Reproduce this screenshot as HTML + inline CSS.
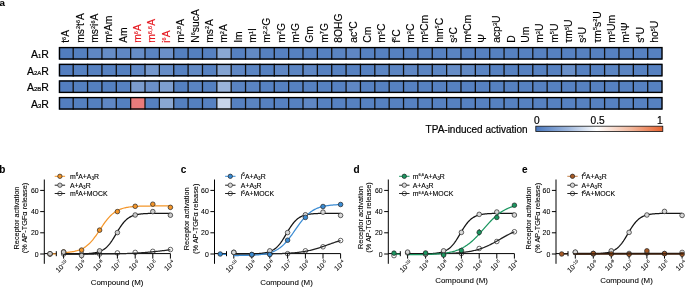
<!DOCTYPE html>
<html><head><meta charset="utf-8"><style>
html,body{margin:0;padding:0;background:#fff;width:685px;height:287px;overflow:hidden;}
svg{display:block;will-change:transform;font-family:"Liberation Sans", sans-serif;}
</style></head><body><svg width="685" height="287" viewBox="0 0 685 287" font-family='"Liberation Sans", sans-serif'><text x="-0.60" y="5.50" font-size="9.80" text-anchor="start" fill="#000" font-weight="bold" stroke="#000" stroke-width="0.08" >a</text><text transform="translate(69.32,42.8) rotate(-90)" font-size="10.35" fill="#000" stroke="#000" stroke-width="0.15"><tspan>t</tspan><tspan font-size="5.60" dy="-3.50">6</tspan><tspan dy="3.50">A</tspan></text><text transform="translate(83.68,42.8) rotate(-90)" font-size="10.35" fill="#000" stroke="#000" stroke-width="0.15"><tspan>ms</tspan><tspan font-size="5.60" dy="-3.50">2</tspan><tspan dy="3.50">t</tspan><tspan font-size="5.60" dy="-3.50">6</tspan><tspan dy="3.50">A</tspan></text><text transform="translate(98.05,42.8) rotate(-90)" font-size="10.35" fill="#000" stroke="#000" stroke-width="0.15"><tspan>ms</tspan><tspan font-size="5.60" dy="-3.50">2</tspan><tspan dy="3.50">i</tspan><tspan font-size="5.60" dy="-3.50">6</tspan><tspan dy="3.50">A</tspan></text><text transform="translate(112.41,42.8) rotate(-90)" font-size="10.35" fill="#000" stroke="#000" stroke-width="0.15"><tspan>m</tspan><tspan font-size="5.60" dy="-3.50">6</tspan><tspan dy="3.50">Am</tspan></text><text transform="translate(126.77,42.8) rotate(-90)" font-size="10.35" fill="#000" stroke="#000" stroke-width="0.15"><tspan>Am</tspan></text><text transform="translate(141.13,42.8) rotate(-90)" font-size="10.35" fill="#e4131b" stroke="#e4131b" stroke-width="0.15"><tspan>m</tspan><tspan font-size="5.60" dy="-3.50">6</tspan><tspan dy="3.50">A</tspan></text><text transform="translate(155.49,42.8) rotate(-90)" font-size="10.35" fill="#e4131b" stroke="#e4131b" stroke-width="0.15"><tspan>m</tspan><tspan font-size="6.00" dy="-3.50">6,6</tspan><tspan dy="3.50">A</tspan></text><text transform="translate(169.86,42.8) rotate(-90)" font-size="10.35" fill="#e4131b" stroke="#e4131b" stroke-width="0.15"><tspan>i</tspan><tspan font-size="5.60" dy="-3.50">6</tspan><tspan dy="3.50">A</tspan></text><text transform="translate(184.22,42.8) rotate(-90)" font-size="10.35" fill="#000" stroke="#000" stroke-width="0.15"><tspan>m</tspan><tspan font-size="6.00" dy="-3.50">2,8</tspan><tspan dy="3.50">A</tspan></text><text transform="translate(198.58,42.8) rotate(-90)" font-size="10.35" fill="#000" stroke="#000" stroke-width="0.15"><tspan>N</tspan><tspan font-size="5.60" dy="-3.50">6</tspan><tspan dy="3.50">sucA</tspan></text><text transform="translate(212.94,42.8) rotate(-90)" font-size="10.35" fill="#000" stroke="#000" stroke-width="0.15"><tspan>ms</tspan><tspan font-size="5.60" dy="-3.50">2</tspan><tspan dy="3.50">A</tspan></text><text transform="translate(227.30,42.8) rotate(-90)" font-size="10.35" fill="#000" stroke="#000" stroke-width="0.15"><tspan>m</tspan><tspan font-size="5.60" dy="-3.50">2</tspan><tspan dy="3.50">A</tspan></text><text transform="translate(241.67,42.8) rotate(-90)" font-size="10.35" fill="#000" stroke="#000" stroke-width="0.15"><tspan>Im</tspan></text><text transform="translate(256.03,42.8) rotate(-90)" font-size="10.35" fill="#000" stroke="#000" stroke-width="0.15"><tspan>m</tspan><tspan font-size="5.60" dy="-3.50">1</tspan><tspan dy="3.50">I</tspan></text><text transform="translate(270.39,42.8) rotate(-90)" font-size="10.35" fill="#000" stroke="#000" stroke-width="0.15"><tspan>m</tspan><tspan font-size="6.00" dy="-3.50">2,2</tspan><tspan dy="3.50">G</tspan></text><text transform="translate(284.75,42.8) rotate(-90)" font-size="10.35" fill="#000" stroke="#000" stroke-width="0.15"><tspan>m</tspan><tspan font-size="5.60" dy="-3.50">2</tspan><tspan dy="3.50">G</tspan></text><text transform="translate(299.12,42.8) rotate(-90)" font-size="10.35" fill="#000" stroke="#000" stroke-width="0.15"><tspan>m</tspan><tspan font-size="5.60" dy="-3.50">1</tspan><tspan dy="3.50">G</tspan></text><text transform="translate(313.48,42.8) rotate(-90)" font-size="10.35" fill="#000" stroke="#000" stroke-width="0.15"><tspan>Gm</tspan></text><text transform="translate(327.84,42.8) rotate(-90)" font-size="10.35" fill="#000" stroke="#000" stroke-width="0.15"><tspan>m</tspan><tspan font-size="5.60" dy="-3.50">7</tspan><tspan dy="3.50">G</tspan></text><text transform="translate(342.20,42.8) rotate(-90)" font-size="10.35" fill="#000" stroke="#000" stroke-width="0.15"><tspan>8OHG</tspan></text><text transform="translate(356.56,42.8) rotate(-90)" font-size="10.35" fill="#000" stroke="#000" stroke-width="0.15"><tspan>ac</tspan><tspan font-size="5.60" dy="-3.50">4</tspan><tspan dy="3.50">C</tspan></text><text transform="translate(370.93,42.8) rotate(-90)" font-size="10.35" fill="#000" stroke="#000" stroke-width="0.15"><tspan>Cm</tspan></text><text transform="translate(385.29,42.8) rotate(-90)" font-size="10.35" fill="#000" stroke="#000" stroke-width="0.15"><tspan>m</tspan><tspan font-size="5.60" dy="-3.50">5</tspan><tspan dy="3.50">C</tspan></text><text transform="translate(399.65,42.8) rotate(-90)" font-size="10.35" fill="#000" stroke="#000" stroke-width="0.15"><tspan>f</tspan><tspan font-size="5.60" dy="-3.50">5</tspan><tspan dy="3.50">C</tspan></text><text transform="translate(414.01,42.8) rotate(-90)" font-size="10.35" fill="#000" stroke="#000" stroke-width="0.15"><tspan>m</tspan><tspan font-size="5.60" dy="-3.50">3</tspan><tspan dy="3.50">C</tspan></text><text transform="translate(428.37,42.8) rotate(-90)" font-size="10.35" fill="#000" stroke="#000" stroke-width="0.15"><tspan>m</tspan><tspan font-size="5.60" dy="-3.50">5</tspan><tspan dy="3.50">Cm</tspan></text><text transform="translate(442.74,42.8) rotate(-90)" font-size="10.35" fill="#000" stroke="#000" stroke-width="0.15"><tspan>hm</tspan><tspan font-size="5.60" dy="-3.50">5</tspan><tspan dy="3.50">C</tspan></text><text transform="translate(457.10,42.8) rotate(-90)" font-size="10.35" fill="#000" stroke="#000" stroke-width="0.15"><tspan>s</tspan><tspan font-size="5.60" dy="-3.50">2</tspan><tspan dy="3.50">C</tspan></text><text transform="translate(471.46,42.8) rotate(-90)" font-size="10.35" fill="#000" stroke="#000" stroke-width="0.15"><tspan>m</tspan><tspan font-size="5.60" dy="-3.50">4</tspan><tspan dy="3.50">Cm</tspan></text><text transform="translate(485.82,42.8) rotate(-90)" font-size="10.35" fill="#000" stroke="#000" stroke-width="0.15"><tspan>Ψ</tspan></text><text transform="translate(500.19,42.8) rotate(-90)" font-size="10.35" fill="#000" stroke="#000" stroke-width="0.15"><tspan>acp</tspan><tspan font-size="5.60" dy="-3.50">3</tspan><tspan dy="3.50">U</tspan></text><text transform="translate(514.55,42.8) rotate(-90)" font-size="10.35" fill="#000" stroke="#000" stroke-width="0.15"><tspan>D</tspan></text><text transform="translate(528.91,42.8) rotate(-90)" font-size="10.35" fill="#000" stroke="#000" stroke-width="0.15"><tspan>Um</tspan></text><text transform="translate(543.27,42.8) rotate(-90)" font-size="10.35" fill="#000" stroke="#000" stroke-width="0.15"><tspan>m</tspan><tspan font-size="5.60" dy="-3.50">3</tspan><tspan dy="3.50">U</tspan></text><text transform="translate(557.63,42.8) rotate(-90)" font-size="10.35" fill="#000" stroke="#000" stroke-width="0.15"><tspan>m</tspan><tspan font-size="5.60" dy="-3.50">5</tspan><tspan dy="3.50">U</tspan></text><text transform="translate(572.00,42.8) rotate(-90)" font-size="10.35" fill="#000" stroke="#000" stroke-width="0.15"><tspan>τm</tspan><tspan font-size="5.60" dy="-3.50">5</tspan><tspan dy="3.50">U</tspan></text><text transform="translate(586.36,42.8) rotate(-90)" font-size="10.35" fill="#000" stroke="#000" stroke-width="0.15"><tspan>s</tspan><tspan font-size="5.60" dy="-3.50">2</tspan><tspan dy="3.50">U</tspan></text><text transform="translate(600.72,42.8) rotate(-90)" font-size="10.35" fill="#000" stroke="#000" stroke-width="0.15"><tspan>τm</tspan><tspan font-size="5.60" dy="-3.50">5</tspan><tspan dy="3.50">s</tspan><tspan font-size="5.60" dy="-3.50">2</tspan><tspan dy="3.50">U</tspan></text><text transform="translate(615.08,42.8) rotate(-90)" font-size="10.35" fill="#000" stroke="#000" stroke-width="0.15"><tspan>m</tspan><tspan font-size="5.60" dy="-3.50">5</tspan><tspan dy="3.50">Um</tspan></text><text transform="translate(629.44,42.8) rotate(-90)" font-size="10.35" fill="#000" stroke="#000" stroke-width="0.15"><tspan>m</tspan><tspan font-size="5.60" dy="-3.50">1</tspan><tspan dy="3.50">Ψ</tspan></text><text transform="translate(643.81,42.8) rotate(-90)" font-size="10.35" fill="#000" stroke="#000" stroke-width="0.15"><tspan>s</tspan><tspan font-size="5.60" dy="-3.50">4</tspan><tspan dy="3.50">U</tspan></text><text transform="translate(658.17,42.8) rotate(-90)" font-size="10.35" fill="#000" stroke="#000" stroke-width="0.15"><tspan>ho</tspan><tspan font-size="5.60" dy="-3.50">5</tspan><tspan dy="3.50">U</tspan></text><rect x="58.84" y="47.00" width="14.41" height="12.60" fill="#517dbf"/><rect x="73.20" y="47.00" width="14.41" height="12.60" fill="#5480c0"/><rect x="87.56" y="47.00" width="14.41" height="12.60" fill="#5f87c4"/><rect x="101.93" y="47.00" width="14.41" height="12.60" fill="#668dc7"/><rect x="116.29" y="47.00" width="14.41" height="12.60" fill="#5f87c4"/><rect x="130.65" y="47.00" width="14.41" height="12.60" fill="#668dc7"/><rect x="145.01" y="47.00" width="14.41" height="12.60" fill="#5a84c2"/><rect x="159.38" y="47.00" width="14.41" height="12.60" fill="#6b90c9"/><rect x="173.74" y="47.00" width="14.41" height="12.60" fill="#5480c0"/><rect x="188.10" y="47.00" width="14.41" height="12.60" fill="#5480c0"/><rect x="202.46" y="47.00" width="14.41" height="12.60" fill="#5681c1"/><rect x="216.82" y="47.00" width="14.41" height="12.60" fill="#8aa8d4"/><rect x="231.19" y="47.00" width="14.41" height="12.60" fill="#5681c1"/><rect x="245.55" y="47.00" width="14.41" height="12.60" fill="#628ac5"/><rect x="259.91" y="47.00" width="14.41" height="12.60" fill="#5681c1"/><rect x="274.27" y="47.00" width="14.41" height="12.60" fill="#5681c1"/><rect x="288.63" y="47.00" width="14.41" height="12.60" fill="#5681c1"/><rect x="303.00" y="47.00" width="14.41" height="12.60" fill="#5681c1"/><rect x="317.36" y="47.00" width="14.41" height="12.60" fill="#5681c1"/><rect x="331.72" y="47.00" width="14.41" height="12.60" fill="#5a84c2"/><rect x="346.08" y="47.00" width="14.41" height="12.60" fill="#5f87c4"/><rect x="360.44" y="47.00" width="14.41" height="12.60" fill="#5681c1"/><rect x="374.81" y="47.00" width="14.41" height="12.60" fill="#5681c1"/><rect x="389.17" y="47.00" width="14.41" height="12.60" fill="#5681c1"/><rect x="403.53" y="47.00" width="14.41" height="12.60" fill="#5681c1"/><rect x="417.89" y="47.00" width="14.41" height="12.60" fill="#5681c1"/><rect x="432.26" y="47.00" width="14.41" height="12.60" fill="#5681c1"/><rect x="446.62" y="47.00" width="14.41" height="12.60" fill="#5a84c2"/><rect x="460.98" y="47.00" width="14.41" height="12.60" fill="#5681c1"/><rect x="475.34" y="47.00" width="14.41" height="12.60" fill="#5681c1"/><rect x="489.70" y="47.00" width="14.41" height="12.60" fill="#5681c1"/><rect x="504.07" y="47.00" width="14.41" height="12.60" fill="#5681c1"/><rect x="518.43" y="47.00" width="14.41" height="12.60" fill="#5681c1"/><rect x="532.79" y="47.00" width="14.41" height="12.60" fill="#5681c1"/><rect x="547.15" y="47.00" width="14.41" height="12.60" fill="#5681c1"/><rect x="561.51" y="47.00" width="14.41" height="12.60" fill="#5681c1"/><rect x="575.88" y="47.00" width="14.41" height="12.60" fill="#5681c1"/><rect x="590.24" y="47.00" width="14.41" height="12.60" fill="#5681c1"/><rect x="604.60" y="47.00" width="14.41" height="12.60" fill="#5681c1"/><rect x="618.96" y="47.00" width="14.41" height="12.60" fill="#5681c1"/><rect x="633.33" y="47.00" width="14.41" height="12.60" fill="#5681c1"/><rect x="647.69" y="47.00" width="14.41" height="12.60" fill="#5681c1"/><line x1="73.20" y1="47.00" x2="73.20" y2="59.60" stroke="#111" stroke-width="1.3"/><line x1="87.56" y1="47.00" x2="87.56" y2="59.60" stroke="#111" stroke-width="1.3"/><line x1="101.93" y1="47.00" x2="101.93" y2="59.60" stroke="#111" stroke-width="1.3"/><line x1="116.29" y1="47.00" x2="116.29" y2="59.60" stroke="#111" stroke-width="1.3"/><line x1="130.65" y1="47.00" x2="130.65" y2="59.60" stroke="#111" stroke-width="1.3"/><line x1="145.01" y1="47.00" x2="145.01" y2="59.60" stroke="#111" stroke-width="1.3"/><line x1="159.38" y1="47.00" x2="159.38" y2="59.60" stroke="#111" stroke-width="1.3"/><line x1="173.74" y1="47.00" x2="173.74" y2="59.60" stroke="#111" stroke-width="1.3"/><line x1="188.10" y1="47.00" x2="188.10" y2="59.60" stroke="#111" stroke-width="1.3"/><line x1="202.46" y1="47.00" x2="202.46" y2="59.60" stroke="#111" stroke-width="1.3"/><line x1="216.82" y1="47.00" x2="216.82" y2="59.60" stroke="#111" stroke-width="1.3"/><line x1="231.19" y1="47.00" x2="231.19" y2="59.60" stroke="#111" stroke-width="1.3"/><line x1="245.55" y1="47.00" x2="245.55" y2="59.60" stroke="#111" stroke-width="1.3"/><line x1="259.91" y1="47.00" x2="259.91" y2="59.60" stroke="#111" stroke-width="1.3"/><line x1="274.27" y1="47.00" x2="274.27" y2="59.60" stroke="#111" stroke-width="1.3"/><line x1="288.63" y1="47.00" x2="288.63" y2="59.60" stroke="#111" stroke-width="1.3"/><line x1="303.00" y1="47.00" x2="303.00" y2="59.60" stroke="#111" stroke-width="1.3"/><line x1="317.36" y1="47.00" x2="317.36" y2="59.60" stroke="#111" stroke-width="1.3"/><line x1="331.72" y1="47.00" x2="331.72" y2="59.60" stroke="#111" stroke-width="1.3"/><line x1="346.08" y1="47.00" x2="346.08" y2="59.60" stroke="#111" stroke-width="1.3"/><line x1="360.44" y1="47.00" x2="360.44" y2="59.60" stroke="#111" stroke-width="1.3"/><line x1="374.81" y1="47.00" x2="374.81" y2="59.60" stroke="#111" stroke-width="1.3"/><line x1="389.17" y1="47.00" x2="389.17" y2="59.60" stroke="#111" stroke-width="1.3"/><line x1="403.53" y1="47.00" x2="403.53" y2="59.60" stroke="#111" stroke-width="1.3"/><line x1="417.89" y1="47.00" x2="417.89" y2="59.60" stroke="#111" stroke-width="1.3"/><line x1="432.26" y1="47.00" x2="432.26" y2="59.60" stroke="#111" stroke-width="1.3"/><line x1="446.62" y1="47.00" x2="446.62" y2="59.60" stroke="#111" stroke-width="1.3"/><line x1="460.98" y1="47.00" x2="460.98" y2="59.60" stroke="#111" stroke-width="1.3"/><line x1="475.34" y1="47.00" x2="475.34" y2="59.60" stroke="#111" stroke-width="1.3"/><line x1="489.70" y1="47.00" x2="489.70" y2="59.60" stroke="#111" stroke-width="1.3"/><line x1="504.07" y1="47.00" x2="504.07" y2="59.60" stroke="#111" stroke-width="1.3"/><line x1="518.43" y1="47.00" x2="518.43" y2="59.60" stroke="#111" stroke-width="1.3"/><line x1="532.79" y1="47.00" x2="532.79" y2="59.60" stroke="#111" stroke-width="1.3"/><line x1="547.15" y1="47.00" x2="547.15" y2="59.60" stroke="#111" stroke-width="1.3"/><line x1="561.51" y1="47.00" x2="561.51" y2="59.60" stroke="#111" stroke-width="1.3"/><line x1="575.88" y1="47.00" x2="575.88" y2="59.60" stroke="#111" stroke-width="1.3"/><line x1="590.24" y1="47.00" x2="590.24" y2="59.60" stroke="#111" stroke-width="1.3"/><line x1="604.60" y1="47.00" x2="604.60" y2="59.60" stroke="#111" stroke-width="1.3"/><line x1="618.96" y1="47.00" x2="618.96" y2="59.60" stroke="#111" stroke-width="1.3"/><line x1="633.33" y1="47.00" x2="633.33" y2="59.60" stroke="#111" stroke-width="1.3"/><line x1="647.69" y1="47.00" x2="647.69" y2="59.60" stroke="#111" stroke-width="1.3"/><rect x="59.50" y="47.60" width="602.50" height="11.40" fill="none" stroke="#000" stroke-width="1.4"/><text x="48.90" y="57.80" font-size="10.50" text-anchor="end" fill="#000" stroke="#000" stroke-width="0.20" >A<tspan font-size="6">1</tspan>R</text><rect x="58.84" y="63.80" width="14.41" height="12.60" fill="#537ec0"/><rect x="73.20" y="63.80" width="14.41" height="12.60" fill="#5681c1"/><rect x="87.56" y="63.80" width="14.41" height="12.60" fill="#5681c1"/><rect x="101.93" y="63.80" width="14.41" height="12.60" fill="#5681c1"/><rect x="116.29" y="63.80" width="14.41" height="12.60" fill="#5480c0"/><rect x="130.65" y="63.80" width="14.41" height="12.60" fill="#5f87c4"/><rect x="145.01" y="63.80" width="14.41" height="12.60" fill="#7497cc"/><rect x="159.38" y="63.80" width="14.41" height="12.60" fill="#668dc7"/><rect x="173.74" y="63.80" width="14.41" height="12.60" fill="#5681c1"/><rect x="188.10" y="63.80" width="14.41" height="12.60" fill="#628ac5"/><rect x="202.46" y="63.80" width="14.41" height="12.60" fill="#5681c1"/><rect x="216.82" y="63.80" width="14.41" height="12.60" fill="#83a3d2"/><rect x="231.19" y="63.80" width="14.41" height="12.60" fill="#5f87c4"/><rect x="245.55" y="63.80" width="14.41" height="12.60" fill="#5b85c3"/><rect x="259.91" y="63.80" width="14.41" height="12.60" fill="#5681c1"/><rect x="274.27" y="63.80" width="14.41" height="12.60" fill="#5f87c4"/><rect x="288.63" y="63.80" width="14.41" height="12.60" fill="#5b85c3"/><rect x="303.00" y="63.80" width="14.41" height="12.60" fill="#5f87c4"/><rect x="317.36" y="63.80" width="14.41" height="12.60" fill="#5681c1"/><rect x="331.72" y="63.80" width="14.41" height="12.60" fill="#5681c1"/><rect x="346.08" y="63.80" width="14.41" height="12.60" fill="#5681c1"/><rect x="360.44" y="63.80" width="14.41" height="12.60" fill="#5681c1"/><rect x="374.81" y="63.80" width="14.41" height="12.60" fill="#5b85c3"/><rect x="389.17" y="63.80" width="14.41" height="12.60" fill="#5b85c3"/><rect x="403.53" y="63.80" width="14.41" height="12.60" fill="#5f87c4"/><rect x="417.89" y="63.80" width="14.41" height="12.60" fill="#5b85c3"/><rect x="432.26" y="63.80" width="14.41" height="12.60" fill="#5b85c3"/><rect x="446.62" y="63.80" width="14.41" height="12.60" fill="#668dc7"/><rect x="460.98" y="63.80" width="14.41" height="12.60" fill="#628ac5"/><rect x="475.34" y="63.80" width="14.41" height="12.60" fill="#5b85c3"/><rect x="489.70" y="63.80" width="14.41" height="12.60" fill="#5681c1"/><rect x="504.07" y="63.80" width="14.41" height="12.60" fill="#5681c1"/><rect x="518.43" y="63.80" width="14.41" height="12.60" fill="#5681c1"/><rect x="532.79" y="63.80" width="14.41" height="12.60" fill="#5681c1"/><rect x="547.15" y="63.80" width="14.41" height="12.60" fill="#5681c1"/><rect x="561.51" y="63.80" width="14.41" height="12.60" fill="#698fc8"/><rect x="575.88" y="63.80" width="14.41" height="12.60" fill="#5681c1"/><rect x="590.24" y="63.80" width="14.41" height="12.60" fill="#5681c1"/><rect x="604.60" y="63.80" width="14.41" height="12.60" fill="#5b85c3"/><rect x="618.96" y="63.80" width="14.41" height="12.60" fill="#5b85c3"/><rect x="633.33" y="63.80" width="14.41" height="12.60" fill="#5681c1"/><rect x="647.69" y="63.80" width="14.41" height="12.60" fill="#5681c1"/><line x1="73.20" y1="63.80" x2="73.20" y2="76.40" stroke="#111" stroke-width="1.3"/><line x1="87.56" y1="63.80" x2="87.56" y2="76.40" stroke="#111" stroke-width="1.3"/><line x1="101.93" y1="63.80" x2="101.93" y2="76.40" stroke="#111" stroke-width="1.3"/><line x1="116.29" y1="63.80" x2="116.29" y2="76.40" stroke="#111" stroke-width="1.3"/><line x1="130.65" y1="63.80" x2="130.65" y2="76.40" stroke="#111" stroke-width="1.3"/><line x1="145.01" y1="63.80" x2="145.01" y2="76.40" stroke="#111" stroke-width="1.3"/><line x1="159.38" y1="63.80" x2="159.38" y2="76.40" stroke="#111" stroke-width="1.3"/><line x1="173.74" y1="63.80" x2="173.74" y2="76.40" stroke="#111" stroke-width="1.3"/><line x1="188.10" y1="63.80" x2="188.10" y2="76.40" stroke="#111" stroke-width="1.3"/><line x1="202.46" y1="63.80" x2="202.46" y2="76.40" stroke="#111" stroke-width="1.3"/><line x1="216.82" y1="63.80" x2="216.82" y2="76.40" stroke="#111" stroke-width="1.3"/><line x1="231.19" y1="63.80" x2="231.19" y2="76.40" stroke="#111" stroke-width="1.3"/><line x1="245.55" y1="63.80" x2="245.55" y2="76.40" stroke="#111" stroke-width="1.3"/><line x1="259.91" y1="63.80" x2="259.91" y2="76.40" stroke="#111" stroke-width="1.3"/><line x1="274.27" y1="63.80" x2="274.27" y2="76.40" stroke="#111" stroke-width="1.3"/><line x1="288.63" y1="63.80" x2="288.63" y2="76.40" stroke="#111" stroke-width="1.3"/><line x1="303.00" y1="63.80" x2="303.00" y2="76.40" stroke="#111" stroke-width="1.3"/><line x1="317.36" y1="63.80" x2="317.36" y2="76.40" stroke="#111" stroke-width="1.3"/><line x1="331.72" y1="63.80" x2="331.72" y2="76.40" stroke="#111" stroke-width="1.3"/><line x1="346.08" y1="63.80" x2="346.08" y2="76.40" stroke="#111" stroke-width="1.3"/><line x1="360.44" y1="63.80" x2="360.44" y2="76.40" stroke="#111" stroke-width="1.3"/><line x1="374.81" y1="63.80" x2="374.81" y2="76.40" stroke="#111" stroke-width="1.3"/><line x1="389.17" y1="63.80" x2="389.17" y2="76.40" stroke="#111" stroke-width="1.3"/><line x1="403.53" y1="63.80" x2="403.53" y2="76.40" stroke="#111" stroke-width="1.3"/><line x1="417.89" y1="63.80" x2="417.89" y2="76.40" stroke="#111" stroke-width="1.3"/><line x1="432.26" y1="63.80" x2="432.26" y2="76.40" stroke="#111" stroke-width="1.3"/><line x1="446.62" y1="63.80" x2="446.62" y2="76.40" stroke="#111" stroke-width="1.3"/><line x1="460.98" y1="63.80" x2="460.98" y2="76.40" stroke="#111" stroke-width="1.3"/><line x1="475.34" y1="63.80" x2="475.34" y2="76.40" stroke="#111" stroke-width="1.3"/><line x1="489.70" y1="63.80" x2="489.70" y2="76.40" stroke="#111" stroke-width="1.3"/><line x1="504.07" y1="63.80" x2="504.07" y2="76.40" stroke="#111" stroke-width="1.3"/><line x1="518.43" y1="63.80" x2="518.43" y2="76.40" stroke="#111" stroke-width="1.3"/><line x1="532.79" y1="63.80" x2="532.79" y2="76.40" stroke="#111" stroke-width="1.3"/><line x1="547.15" y1="63.80" x2="547.15" y2="76.40" stroke="#111" stroke-width="1.3"/><line x1="561.51" y1="63.80" x2="561.51" y2="76.40" stroke="#111" stroke-width="1.3"/><line x1="575.88" y1="63.80" x2="575.88" y2="76.40" stroke="#111" stroke-width="1.3"/><line x1="590.24" y1="63.80" x2="590.24" y2="76.40" stroke="#111" stroke-width="1.3"/><line x1="604.60" y1="63.80" x2="604.60" y2="76.40" stroke="#111" stroke-width="1.3"/><line x1="618.96" y1="63.80" x2="618.96" y2="76.40" stroke="#111" stroke-width="1.3"/><line x1="633.33" y1="63.80" x2="633.33" y2="76.40" stroke="#111" stroke-width="1.3"/><line x1="647.69" y1="63.80" x2="647.69" y2="76.40" stroke="#111" stroke-width="1.3"/><rect x="59.50" y="64.40" width="602.50" height="11.40" fill="none" stroke="#000" stroke-width="1.4"/><text x="48.90" y="74.60" font-size="10.50" text-anchor="end" fill="#000" stroke="#000" stroke-width="0.20" >A<tspan font-size="6">2A</tspan>R</text><rect x="58.84" y="80.40" width="14.41" height="12.60" fill="#537ec0"/><rect x="73.20" y="80.40" width="14.41" height="12.60" fill="#5480c0"/><rect x="87.56" y="80.40" width="14.41" height="12.60" fill="#5480c0"/><rect x="101.93" y="80.40" width="14.41" height="12.60" fill="#5480c0"/><rect x="116.29" y="80.40" width="14.41" height="12.60" fill="#5681c1"/><rect x="130.65" y="80.40" width="14.41" height="12.60" fill="#7b9cce"/><rect x="145.01" y="80.40" width="14.41" height="12.60" fill="#6b90c9"/><rect x="159.38" y="80.40" width="14.41" height="12.60" fill="#7e9fd0"/><rect x="173.74" y="80.40" width="14.41" height="12.60" fill="#5480c0"/><rect x="188.10" y="80.40" width="14.41" height="12.60" fill="#5a84c2"/><rect x="202.46" y="80.40" width="14.41" height="12.60" fill="#5480c0"/><rect x="216.82" y="80.40" width="14.41" height="12.60" fill="#9ab4da"/><rect x="231.19" y="80.40" width="14.41" height="12.60" fill="#5a84c2"/><rect x="245.55" y="80.40" width="14.41" height="12.60" fill="#5a84c2"/><rect x="259.91" y="80.40" width="14.41" height="12.60" fill="#5681c1"/><rect x="274.27" y="80.40" width="14.41" height="12.60" fill="#5681c1"/><rect x="288.63" y="80.40" width="14.41" height="12.60" fill="#5681c1"/><rect x="303.00" y="80.40" width="14.41" height="12.60" fill="#5681c1"/><rect x="317.36" y="80.40" width="14.41" height="12.60" fill="#5681c1"/><rect x="331.72" y="80.40" width="14.41" height="12.60" fill="#5681c1"/><rect x="346.08" y="80.40" width="14.41" height="12.60" fill="#5f87c4"/><rect x="360.44" y="80.40" width="14.41" height="12.60" fill="#5681c1"/><rect x="374.81" y="80.40" width="14.41" height="12.60" fill="#5681c1"/><rect x="389.17" y="80.40" width="14.41" height="12.60" fill="#5681c1"/><rect x="403.53" y="80.40" width="14.41" height="12.60" fill="#5681c1"/><rect x="417.89" y="80.40" width="14.41" height="12.60" fill="#5681c1"/><rect x="432.26" y="80.40" width="14.41" height="12.60" fill="#5681c1"/><rect x="446.62" y="80.40" width="14.41" height="12.60" fill="#5681c1"/><rect x="460.98" y="80.40" width="14.41" height="12.60" fill="#5681c1"/><rect x="475.34" y="80.40" width="14.41" height="12.60" fill="#5681c1"/><rect x="489.70" y="80.40" width="14.41" height="12.60" fill="#5681c1"/><rect x="504.07" y="80.40" width="14.41" height="12.60" fill="#5681c1"/><rect x="518.43" y="80.40" width="14.41" height="12.60" fill="#5681c1"/><rect x="532.79" y="80.40" width="14.41" height="12.60" fill="#5681c1"/><rect x="547.15" y="80.40" width="14.41" height="12.60" fill="#5681c1"/><rect x="561.51" y="80.40" width="14.41" height="12.60" fill="#5681c1"/><rect x="575.88" y="80.40" width="14.41" height="12.60" fill="#5681c1"/><rect x="590.24" y="80.40" width="14.41" height="12.60" fill="#5681c1"/><rect x="604.60" y="80.40" width="14.41" height="12.60" fill="#5681c1"/><rect x="618.96" y="80.40" width="14.41" height="12.60" fill="#5681c1"/><rect x="633.33" y="80.40" width="14.41" height="12.60" fill="#5681c1"/><rect x="647.69" y="80.40" width="14.41" height="12.60" fill="#5681c1"/><line x1="73.20" y1="80.40" x2="73.20" y2="93.00" stroke="#111" stroke-width="1.3"/><line x1="87.56" y1="80.40" x2="87.56" y2="93.00" stroke="#111" stroke-width="1.3"/><line x1="101.93" y1="80.40" x2="101.93" y2="93.00" stroke="#111" stroke-width="1.3"/><line x1="116.29" y1="80.40" x2="116.29" y2="93.00" stroke="#111" stroke-width="1.3"/><line x1="130.65" y1="80.40" x2="130.65" y2="93.00" stroke="#111" stroke-width="1.3"/><line x1="145.01" y1="80.40" x2="145.01" y2="93.00" stroke="#111" stroke-width="1.3"/><line x1="159.38" y1="80.40" x2="159.38" y2="93.00" stroke="#111" stroke-width="1.3"/><line x1="173.74" y1="80.40" x2="173.74" y2="93.00" stroke="#111" stroke-width="1.3"/><line x1="188.10" y1="80.40" x2="188.10" y2="93.00" stroke="#111" stroke-width="1.3"/><line x1="202.46" y1="80.40" x2="202.46" y2="93.00" stroke="#111" stroke-width="1.3"/><line x1="216.82" y1="80.40" x2="216.82" y2="93.00" stroke="#111" stroke-width="1.3"/><line x1="231.19" y1="80.40" x2="231.19" y2="93.00" stroke="#111" stroke-width="1.3"/><line x1="245.55" y1="80.40" x2="245.55" y2="93.00" stroke="#111" stroke-width="1.3"/><line x1="259.91" y1="80.40" x2="259.91" y2="93.00" stroke="#111" stroke-width="1.3"/><line x1="274.27" y1="80.40" x2="274.27" y2="93.00" stroke="#111" stroke-width="1.3"/><line x1="288.63" y1="80.40" x2="288.63" y2="93.00" stroke="#111" stroke-width="1.3"/><line x1="303.00" y1="80.40" x2="303.00" y2="93.00" stroke="#111" stroke-width="1.3"/><line x1="317.36" y1="80.40" x2="317.36" y2="93.00" stroke="#111" stroke-width="1.3"/><line x1="331.72" y1="80.40" x2="331.72" y2="93.00" stroke="#111" stroke-width="1.3"/><line x1="346.08" y1="80.40" x2="346.08" y2="93.00" stroke="#111" stroke-width="1.3"/><line x1="360.44" y1="80.40" x2="360.44" y2="93.00" stroke="#111" stroke-width="1.3"/><line x1="374.81" y1="80.40" x2="374.81" y2="93.00" stroke="#111" stroke-width="1.3"/><line x1="389.17" y1="80.40" x2="389.17" y2="93.00" stroke="#111" stroke-width="1.3"/><line x1="403.53" y1="80.40" x2="403.53" y2="93.00" stroke="#111" stroke-width="1.3"/><line x1="417.89" y1="80.40" x2="417.89" y2="93.00" stroke="#111" stroke-width="1.3"/><line x1="432.26" y1="80.40" x2="432.26" y2="93.00" stroke="#111" stroke-width="1.3"/><line x1="446.62" y1="80.40" x2="446.62" y2="93.00" stroke="#111" stroke-width="1.3"/><line x1="460.98" y1="80.40" x2="460.98" y2="93.00" stroke="#111" stroke-width="1.3"/><line x1="475.34" y1="80.40" x2="475.34" y2="93.00" stroke="#111" stroke-width="1.3"/><line x1="489.70" y1="80.40" x2="489.70" y2="93.00" stroke="#111" stroke-width="1.3"/><line x1="504.07" y1="80.40" x2="504.07" y2="93.00" stroke="#111" stroke-width="1.3"/><line x1="518.43" y1="80.40" x2="518.43" y2="93.00" stroke="#111" stroke-width="1.3"/><line x1="532.79" y1="80.40" x2="532.79" y2="93.00" stroke="#111" stroke-width="1.3"/><line x1="547.15" y1="80.40" x2="547.15" y2="93.00" stroke="#111" stroke-width="1.3"/><line x1="561.51" y1="80.40" x2="561.51" y2="93.00" stroke="#111" stroke-width="1.3"/><line x1="575.88" y1="80.40" x2="575.88" y2="93.00" stroke="#111" stroke-width="1.3"/><line x1="590.24" y1="80.40" x2="590.24" y2="93.00" stroke="#111" stroke-width="1.3"/><line x1="604.60" y1="80.40" x2="604.60" y2="93.00" stroke="#111" stroke-width="1.3"/><line x1="618.96" y1="80.40" x2="618.96" y2="93.00" stroke="#111" stroke-width="1.3"/><line x1="633.33" y1="80.40" x2="633.33" y2="93.00" stroke="#111" stroke-width="1.3"/><line x1="647.69" y1="80.40" x2="647.69" y2="93.00" stroke="#111" stroke-width="1.3"/><rect x="59.50" y="81.00" width="602.50" height="11.40" fill="none" stroke="#000" stroke-width="1.4"/><text x="48.90" y="91.20" font-size="10.50" text-anchor="end" fill="#000" stroke="#000" stroke-width="0.20" >A<tspan font-size="6">2B</tspan>R</text><rect x="58.84" y="97.00" width="14.41" height="12.60" fill="#537ec0"/><rect x="73.20" y="97.00" width="14.41" height="12.60" fill="#5480c0"/><rect x="87.56" y="97.00" width="14.41" height="12.60" fill="#5480c0"/><rect x="101.93" y="97.00" width="14.41" height="12.60" fill="#5f87c4"/><rect x="116.29" y="97.00" width="14.41" height="12.60" fill="#5480c0"/><rect x="130.65" y="97.00" width="14.41" height="12.60" fill="#e97b7b"/><rect x="145.01" y="97.00" width="14.41" height="12.60" fill="#5681c1"/><rect x="159.38" y="97.00" width="14.41" height="12.60" fill="#89a7d3"/><rect x="173.74" y="97.00" width="14.41" height="12.60" fill="#5480c0"/><rect x="188.10" y="97.00" width="14.41" height="12.60" fill="#5480c0"/><rect x="202.46" y="97.00" width="14.41" height="12.60" fill="#5681c1"/><rect x="216.82" y="97.00" width="14.41" height="12.60" fill="#c7d5eb"/><rect x="231.19" y="97.00" width="14.41" height="12.60" fill="#5681c1"/><rect x="245.55" y="97.00" width="14.41" height="12.60" fill="#5a84c2"/><rect x="259.91" y="97.00" width="14.41" height="12.60" fill="#5681c1"/><rect x="274.27" y="97.00" width="14.41" height="12.60" fill="#5681c1"/><rect x="288.63" y="97.00" width="14.41" height="12.60" fill="#5681c1"/><rect x="303.00" y="97.00" width="14.41" height="12.60" fill="#5f87c4"/><rect x="317.36" y="97.00" width="14.41" height="12.60" fill="#5681c1"/><rect x="331.72" y="97.00" width="14.41" height="12.60" fill="#5681c1"/><rect x="346.08" y="97.00" width="14.41" height="12.60" fill="#5681c1"/><rect x="360.44" y="97.00" width="14.41" height="12.60" fill="#5681c1"/><rect x="374.81" y="97.00" width="14.41" height="12.60" fill="#5681c1"/><rect x="389.17" y="97.00" width="14.41" height="12.60" fill="#5681c1"/><rect x="403.53" y="97.00" width="14.41" height="12.60" fill="#5681c1"/><rect x="417.89" y="97.00" width="14.41" height="12.60" fill="#5681c1"/><rect x="432.26" y="97.00" width="14.41" height="12.60" fill="#5681c1"/><rect x="446.62" y="97.00" width="14.41" height="12.60" fill="#5681c1"/><rect x="460.98" y="97.00" width="14.41" height="12.60" fill="#5681c1"/><rect x="475.34" y="97.00" width="14.41" height="12.60" fill="#5681c1"/><rect x="489.70" y="97.00" width="14.41" height="12.60" fill="#5681c1"/><rect x="504.07" y="97.00" width="14.41" height="12.60" fill="#5681c1"/><rect x="518.43" y="97.00" width="14.41" height="12.60" fill="#5681c1"/><rect x="532.79" y="97.00" width="14.41" height="12.60" fill="#5681c1"/><rect x="547.15" y="97.00" width="14.41" height="12.60" fill="#5681c1"/><rect x="561.51" y="97.00" width="14.41" height="12.60" fill="#5681c1"/><rect x="575.88" y="97.00" width="14.41" height="12.60" fill="#5681c1"/><rect x="590.24" y="97.00" width="14.41" height="12.60" fill="#5681c1"/><rect x="604.60" y="97.00" width="14.41" height="12.60" fill="#5681c1"/><rect x="618.96" y="97.00" width="14.41" height="12.60" fill="#5681c1"/><rect x="633.33" y="97.00" width="14.41" height="12.60" fill="#5681c1"/><rect x="647.69" y="97.00" width="14.41" height="12.60" fill="#5681c1"/><line x1="73.20" y1="97.00" x2="73.20" y2="109.60" stroke="#111" stroke-width="1.3"/><line x1="87.56" y1="97.00" x2="87.56" y2="109.60" stroke="#111" stroke-width="1.3"/><line x1="101.93" y1="97.00" x2="101.93" y2="109.60" stroke="#111" stroke-width="1.3"/><line x1="116.29" y1="97.00" x2="116.29" y2="109.60" stroke="#111" stroke-width="1.3"/><line x1="130.65" y1="97.00" x2="130.65" y2="109.60" stroke="#111" stroke-width="1.3"/><line x1="145.01" y1="97.00" x2="145.01" y2="109.60" stroke="#111" stroke-width="1.3"/><line x1="159.38" y1="97.00" x2="159.38" y2="109.60" stroke="#111" stroke-width="1.3"/><line x1="173.74" y1="97.00" x2="173.74" y2="109.60" stroke="#111" stroke-width="1.3"/><line x1="188.10" y1="97.00" x2="188.10" y2="109.60" stroke="#111" stroke-width="1.3"/><line x1="202.46" y1="97.00" x2="202.46" y2="109.60" stroke="#111" stroke-width="1.3"/><line x1="216.82" y1="97.00" x2="216.82" y2="109.60" stroke="#111" stroke-width="1.3"/><line x1="231.19" y1="97.00" x2="231.19" y2="109.60" stroke="#111" stroke-width="1.3"/><line x1="245.55" y1="97.00" x2="245.55" y2="109.60" stroke="#111" stroke-width="1.3"/><line x1="259.91" y1="97.00" x2="259.91" y2="109.60" stroke="#111" stroke-width="1.3"/><line x1="274.27" y1="97.00" x2="274.27" y2="109.60" stroke="#111" stroke-width="1.3"/><line x1="288.63" y1="97.00" x2="288.63" y2="109.60" stroke="#111" stroke-width="1.3"/><line x1="303.00" y1="97.00" x2="303.00" y2="109.60" stroke="#111" stroke-width="1.3"/><line x1="317.36" y1="97.00" x2="317.36" y2="109.60" stroke="#111" stroke-width="1.3"/><line x1="331.72" y1="97.00" x2="331.72" y2="109.60" stroke="#111" stroke-width="1.3"/><line x1="346.08" y1="97.00" x2="346.08" y2="109.60" stroke="#111" stroke-width="1.3"/><line x1="360.44" y1="97.00" x2="360.44" y2="109.60" stroke="#111" stroke-width="1.3"/><line x1="374.81" y1="97.00" x2="374.81" y2="109.60" stroke="#111" stroke-width="1.3"/><line x1="389.17" y1="97.00" x2="389.17" y2="109.60" stroke="#111" stroke-width="1.3"/><line x1="403.53" y1="97.00" x2="403.53" y2="109.60" stroke="#111" stroke-width="1.3"/><line x1="417.89" y1="97.00" x2="417.89" y2="109.60" stroke="#111" stroke-width="1.3"/><line x1="432.26" y1="97.00" x2="432.26" y2="109.60" stroke="#111" stroke-width="1.3"/><line x1="446.62" y1="97.00" x2="446.62" y2="109.60" stroke="#111" stroke-width="1.3"/><line x1="460.98" y1="97.00" x2="460.98" y2="109.60" stroke="#111" stroke-width="1.3"/><line x1="475.34" y1="97.00" x2="475.34" y2="109.60" stroke="#111" stroke-width="1.3"/><line x1="489.70" y1="97.00" x2="489.70" y2="109.60" stroke="#111" stroke-width="1.3"/><line x1="504.07" y1="97.00" x2="504.07" y2="109.60" stroke="#111" stroke-width="1.3"/><line x1="518.43" y1="97.00" x2="518.43" y2="109.60" stroke="#111" stroke-width="1.3"/><line x1="532.79" y1="97.00" x2="532.79" y2="109.60" stroke="#111" stroke-width="1.3"/><line x1="547.15" y1="97.00" x2="547.15" y2="109.60" stroke="#111" stroke-width="1.3"/><line x1="561.51" y1="97.00" x2="561.51" y2="109.60" stroke="#111" stroke-width="1.3"/><line x1="575.88" y1="97.00" x2="575.88" y2="109.60" stroke="#111" stroke-width="1.3"/><line x1="590.24" y1="97.00" x2="590.24" y2="109.60" stroke="#111" stroke-width="1.3"/><line x1="604.60" y1="97.00" x2="604.60" y2="109.60" stroke="#111" stroke-width="1.3"/><line x1="618.96" y1="97.00" x2="618.96" y2="109.60" stroke="#111" stroke-width="1.3"/><line x1="633.33" y1="97.00" x2="633.33" y2="109.60" stroke="#111" stroke-width="1.3"/><line x1="647.69" y1="97.00" x2="647.69" y2="109.60" stroke="#111" stroke-width="1.3"/><rect x="59.50" y="97.60" width="602.50" height="11.40" fill="none" stroke="#000" stroke-width="1.4"/><text x="48.90" y="107.80" font-size="10.50" text-anchor="end" fill="#000" stroke="#000" stroke-width="0.20" >A<tspan font-size="6">3</tspan>R</text><defs><linearGradient id="cb" x1="0" x2="1" y1="0" y2="0"><stop offset="0" stop-color="#4a78be"/><stop offset="0.25" stop-color="#9db6dc"/><stop offset="0.48" stop-color="#ffffff"/><stop offset="0.75" stop-color="#f2b79c"/><stop offset="1" stop-color="#e8622e"/></linearGradient></defs><rect x="535.8" y="126.2" width="127" height="5.3" fill="url(#cb)" stroke="#111" stroke-width="0.8"/><text x="536.90" y="123.80" font-size="10.20" text-anchor="middle" fill="#000" stroke="#000" stroke-width="0.20" >0</text><text x="597.70" y="123.80" font-size="10.20" text-anchor="middle" fill="#000" stroke="#000" stroke-width="0.20" >0.5</text><text x="659.90" y="123.80" font-size="10.20" text-anchor="middle" fill="#000" stroke="#000" stroke-width="0.20" >1</text><text x="527.70" y="132.60" font-size="10.00" text-anchor="end" fill="#000" stroke="#000" stroke-width="0.20" >TPA-induced activation</text><g transform="translate(0.00,0)"><text x="-0.80" y="172.60" font-size="10.00" text-anchor="start" fill="#000" font-weight="bold" stroke="#000" stroke-width="0.08" >b</text><line x1="44.3" y1="179.5" x2="44.3" y2="263.8" stroke="#000" stroke-width="1"/><line x1="40.2" y1="254.00" x2="44.3" y2="254.00" stroke="#000" stroke-width="1"/><text x="38.60" y="256.50" font-size="6.90" text-anchor="end" fill="#000" stroke="#000" stroke-width="0.08" >0</text><line x1="40.2" y1="232.80" x2="44.3" y2="232.80" stroke="#000" stroke-width="1"/><text x="38.60" y="235.30" font-size="6.90" text-anchor="end" fill="#000" stroke="#000" stroke-width="0.08" >20</text><line x1="40.2" y1="211.60" x2="44.3" y2="211.60" stroke="#000" stroke-width="1"/><text x="38.60" y="214.10" font-size="6.90" text-anchor="end" fill="#000" stroke="#000" stroke-width="0.08" >40</text><line x1="40.2" y1="190.40" x2="44.3" y2="190.40" stroke="#000" stroke-width="1"/><text x="38.60" y="192.90" font-size="6.90" text-anchor="end" fill="#000" stroke="#000" stroke-width="0.08" >60</text><text transform="translate(19.30,218.00) rotate(-90)" font-size="7.35" text-anchor="middle" stroke="#000" stroke-width="0.08">Receptor activation</text><text transform="translate(26.80,218.00) rotate(-90)" font-size="7.35" text-anchor="middle" stroke="#000" stroke-width="0.08">(% AP-TGFα release)</text><line x1="44.3" y1="253.6" x2="56.3" y2="253.6" stroke="#000" stroke-width="1"/><line x1="51.5" y1="253.90" x2="56" y2="253.90" stroke="#f4962a" stroke-width="1.2"/><line x1="56.3" y1="251.2" x2="56.3" y2="256.2" stroke="#000" stroke-width="1"/><line x1="61.5" y1="253.6" x2="170.4" y2="253.6" stroke="#000" stroke-width="1"/><line x1="63.60" y1="253.6" x2="63.60" y2="258.6" stroke="#000" stroke-width="1"/><text transform="translate(68.40,263.0) rotate(-45)" font-size="7" text-anchor="end" stroke="#000" stroke-width="0.08">10<tspan font-size="4.4" dy="-2.3">-10</tspan></text><line x1="81.60" y1="253.6" x2="81.60" y2="258.6" stroke="#000" stroke-width="1"/><text transform="translate(86.40,263.0) rotate(-45)" font-size="7" text-anchor="end" stroke="#000" stroke-width="0.08">10<tspan font-size="4.4" dy="-2.3">-9</tspan></text><line x1="99.60" y1="253.6" x2="99.60" y2="258.6" stroke="#000" stroke-width="1"/><text transform="translate(104.40,263.0) rotate(-45)" font-size="7" text-anchor="end" stroke="#000" stroke-width="0.08">10<tspan font-size="4.4" dy="-2.3">-8</tspan></text><line x1="117.40" y1="253.6" x2="117.40" y2="258.6" stroke="#000" stroke-width="1"/><text transform="translate(122.20,263.0) rotate(-45)" font-size="7" text-anchor="end" stroke="#000" stroke-width="0.08">10<tspan font-size="4.4" dy="-2.3">-7</tspan></text><line x1="135.20" y1="253.6" x2="135.20" y2="258.6" stroke="#000" stroke-width="1"/><text transform="translate(140.00,263.0) rotate(-45)" font-size="7" text-anchor="end" stroke="#000" stroke-width="0.08">10<tspan font-size="4.4" dy="-2.3">-6</tspan></text><line x1="152.80" y1="253.6" x2="152.80" y2="258.6" stroke="#000" stroke-width="1"/><text transform="translate(157.60,263.0) rotate(-45)" font-size="7" text-anchor="end" stroke="#000" stroke-width="0.08">10<tspan font-size="4.4" dy="-2.3">-5</tspan></text><line x1="170.40" y1="253.6" x2="170.40" y2="258.6" stroke="#000" stroke-width="1"/><text transform="translate(175.20,263.0) rotate(-45)" font-size="7" text-anchor="end" stroke="#000" stroke-width="0.08">10<tspan font-size="4.4" dy="-2.3">-4</tspan></text><text x="117.10" y="285.30" font-size="7.90" text-anchor="middle" fill="#000" stroke="#000" stroke-width="0.08" >Compound (M)</text><line x1="54.70" y1="176.30" x2="65.10" y2="176.30" stroke="#f4962a" stroke-width="1"/><circle cx="59.90" cy="176.30" r="2.2" fill="#f4962a" stroke="#222" stroke-width="0.7"/><text x="69.90" y="178.90" font-size="6.90" text-anchor="start" fill="#000" stroke="#000" stroke-width="0.12" >m<tspan font-size="4.6" dy="-2.6">6</tspan><tspan dy="2.6">​</tspan>A+A<tspan font-size="4.6" dy="0.9">3</tspan><tspan dy="-0.9">R</tspan></text><line x1="54.70" y1="185.20" x2="65.10" y2="185.20" stroke="#222" stroke-width="1"/><circle cx="59.90" cy="185.20" r="2.2" fill="#cccccc" stroke="#222" stroke-width="0.7"/><text x="69.90" y="187.80" font-size="6.90" text-anchor="start" fill="#000" stroke="#000" stroke-width="0.12" >A+A<tspan font-size="4.6" dy="0.9">3</tspan><tspan dy="-0.9">R</tspan></text><line x1="54.70" y1="193.50" x2="65.10" y2="193.50" stroke="#222" stroke-width="1"/><circle cx="59.90" cy="193.50" r="2.2" fill="none" stroke="#222" stroke-width="0.7"/><text x="69.90" y="196.10" font-size="6.90" text-anchor="start" fill="#000" stroke="#000" stroke-width="0.12" >m<tspan font-size="4.6" dy="-2.6">6</tspan><tspan dy="2.6">​</tspan>A+MOCK</text><path d="M63.60,254.07L64.49,254.07L65.38,254.07L66.27,254.07L67.16,254.07L68.05,254.07L68.94,254.07L69.83,254.07L70.72,254.07L71.61,254.07L72.50,254.06L73.39,254.06L74.28,254.06L75.17,254.06L76.06,254.06L76.95,254.06L77.84,254.06L78.73,254.05L79.62,254.05L80.51,254.05L81.40,254.05L82.29,254.05L83.18,254.05L84.07,254.04L84.96,254.04L85.85,254.04L86.74,254.04L87.63,254.03L88.52,254.03L89.41,254.03L90.30,254.02L91.19,254.02L92.08,254.02L92.97,254.01L93.86,254.01L94.75,254.00L95.64,254.00L96.53,253.99L97.42,253.99L98.31,253.98L99.20,253.98L100.09,253.97L100.98,253.96L101.87,253.96L102.76,253.95L103.65,253.94L104.54,253.93L105.43,253.92L106.32,253.92L107.21,253.91L108.10,253.90L108.99,253.89L109.88,253.87L110.77,253.86L111.66,253.85L112.55,253.84L113.44,253.82L114.33,253.81L115.22,253.79L116.11,253.78L117.00,253.76L117.89,253.74L118.78,253.72L119.67,253.70L120.56,253.68L121.45,253.66L122.34,253.64L123.23,253.61L124.12,253.58L125.01,253.56L125.90,253.53L126.79,253.50L127.68,253.47L128.57,253.44L129.46,253.40L130.35,253.37L131.24,253.33L132.13,253.29L133.02,253.25L133.91,253.21L134.80,253.16L135.69,253.11L136.58,253.07L137.47,253.01L138.36,252.96L139.25,252.91L140.14,252.85L141.03,252.79L141.92,252.73L142.81,252.67L143.70,252.60L144.59,252.53L145.48,252.46L146.37,252.39L147.26,252.31L148.15,252.23L149.04,252.15L149.93,252.07L150.82,251.99L151.71,251.90L152.60,251.81L153.49,251.72L154.38,251.63L155.27,251.54L156.16,251.44L157.05,251.34L157.94,251.25L158.83,251.14L159.72,251.04L160.61,250.94L161.50,250.84L162.39,250.73L163.28,250.63L164.17,250.52L165.06,250.42L165.95,250.31L166.84,250.21L167.73,250.10L168.62,249.99L169.51,249.89L170.40,249.79" fill="none" stroke="#222" stroke-width="1.25"/><path d="M63.60,252.61L64.49,252.56L65.38,252.50L66.27,252.43L67.16,252.36L68.05,252.28L68.94,252.19L69.83,252.09L70.72,251.98L71.61,251.85L72.50,251.71L73.39,251.55L74.28,251.38L75.17,251.19L76.06,250.97L76.95,250.73L77.84,250.47L78.73,250.18L79.62,249.85L80.51,249.50L81.40,249.10L82.29,248.67L83.18,248.20L84.07,247.68L84.96,247.11L85.85,246.50L86.74,245.83L87.63,245.10L88.52,244.32L89.41,243.48L90.30,242.58L91.19,241.63L92.08,240.61L92.97,239.54L93.86,238.42L94.75,237.24L95.64,236.02L96.53,234.77L97.42,233.48L98.31,232.16L99.20,230.83L100.09,229.49L100.98,228.15L101.87,226.81L102.76,225.50L103.65,224.21L104.54,222.95L105.43,221.73L106.32,220.56L107.21,219.43L108.10,218.36L108.99,217.35L109.88,216.39L110.77,215.49L111.66,214.65L112.55,213.87L113.44,213.15L114.33,212.48L115.22,211.86L116.11,211.30L117.00,210.78L117.89,210.30L118.78,209.87L119.67,209.48L120.56,209.12L121.45,208.80L122.34,208.51L123.23,208.24L124.12,208.00L125.01,207.79L125.90,207.60L126.79,207.42L127.68,207.27L128.57,207.13L129.46,207.00L130.35,206.89L131.24,206.79L132.13,206.69L133.02,206.61L133.91,206.54L134.80,206.48L135.69,206.42L136.58,206.37L137.47,206.32L138.36,206.28L139.25,206.24L140.14,206.21L141.03,206.18L141.92,206.15L142.81,206.13L143.70,206.11L144.59,206.09L145.48,206.07L146.37,206.05L147.26,206.04L148.15,206.03L149.04,206.02L149.93,206.01L150.82,206.00L151.71,205.99L152.60,205.99L153.49,205.98L154.38,205.97L155.27,205.97L156.16,205.96L157.05,205.96L157.94,205.96L158.83,205.95L159.72,205.95L160.61,205.95L161.50,205.95L162.39,205.95L163.28,205.94L164.17,205.94L165.06,205.94L165.95,205.94L166.84,205.94L167.73,205.94L168.62,205.94L169.51,205.94L170.40,205.93" fill="none" stroke="#f4962a" stroke-width="1.25"/><path d="M63.60,253.89L64.49,253.89L65.38,253.89L66.27,253.88L67.16,253.88L68.05,253.88L68.94,253.88L69.83,253.88L70.72,253.87L71.61,253.87L72.50,253.87L73.39,253.86L74.28,253.86L75.17,253.85L76.06,253.84L76.95,253.84L77.84,253.83L78.73,253.82L79.62,253.80L80.51,253.79L81.40,253.77L82.29,253.75L83.18,253.73L84.07,253.71L84.96,253.68L85.85,253.64L86.74,253.60L87.63,253.56L88.52,253.50L89.41,253.44L90.30,253.37L91.19,253.29L92.08,253.19L92.97,253.08L93.86,252.95L94.75,252.81L95.64,252.64L96.53,252.45L97.42,252.22L98.31,251.97L99.20,251.68L100.09,251.34L100.98,250.97L101.87,250.54L102.76,250.05L103.65,249.50L104.54,248.88L105.43,248.19L106.32,247.43L107.21,246.58L108.10,245.64L108.99,244.62L109.88,243.52L110.77,242.33L111.66,241.07L112.55,239.73L113.44,238.33L114.33,236.88L115.22,235.40L116.11,233.90L117.00,232.39L117.89,230.90L118.78,229.43L119.67,228.01L120.56,226.65L121.45,225.36L122.34,224.14L123.23,223.00L124.12,221.94L125.01,220.98L125.90,220.09L126.79,219.29L127.68,218.57L128.57,217.93L129.46,217.35L130.35,216.84L131.24,216.39L132.13,215.99L133.02,215.64L133.91,215.33L134.80,215.06L135.69,214.83L136.58,214.62L137.47,214.45L138.36,214.29L139.25,214.16L140.14,214.04L141.03,213.94L141.92,213.85L142.81,213.78L143.70,213.71L144.59,213.65L145.48,213.60L146.37,213.56L147.26,213.53L148.15,213.49L149.04,213.47L149.93,213.44L150.82,213.42L151.71,213.41L152.60,213.39L153.49,213.38L154.38,213.37L155.27,213.36L156.16,213.35L157.05,213.34L157.94,213.33L158.83,213.33L159.72,213.32L160.61,213.32L161.50,213.32L162.39,213.31L163.28,213.31L164.17,213.31L165.06,213.31L165.95,213.31L166.84,213.30L167.73,213.30L168.62,213.30L169.51,213.30L170.40,213.30" fill="none" stroke="#141414" stroke-width="1.25"/><circle cx="50" cy="254.00" r="2.3" fill="none" stroke="#222" stroke-width="0.7"/><circle cx="63.60" cy="254.00" r="2.3" fill="none" stroke="#222" stroke-width="0.7"/><circle cx="81.60" cy="254.00" r="2.3" fill="none" stroke="#222" stroke-width="0.7"/><circle cx="99.60" cy="254.00" r="2.3" fill="none" stroke="#222" stroke-width="0.7"/><circle cx="117.40" cy="252.94" r="2.3" fill="none" stroke="#222" stroke-width="0.7"/><circle cx="135.20" cy="252.41" r="2.3" fill="none" stroke="#222" stroke-width="0.7"/><circle cx="152.80" cy="251.35" r="2.3" fill="none" stroke="#222" stroke-width="0.7"/><circle cx="170.40" cy="249.55" r="2.3" fill="none" stroke="#222" stroke-width="0.7"/><circle cx="50" cy="254.00" r="2.3" fill="#f4962a" stroke="#222" stroke-width="0.7"/><circle cx="63.60" cy="251.88" r="2.3" fill="#f4962a" stroke="#222" stroke-width="0.7"/><circle cx="81.60" cy="250.08" r="2.3" fill="#f4962a" stroke="#222" stroke-width="0.7"/><circle cx="99.60" cy="230.15" r="2.3" fill="#f4962a" stroke="#222" stroke-width="0.7"/><circle cx="117.40" cy="211.60" r="2.3" fill="#f4962a" stroke="#222" stroke-width="0.7"/><circle cx="135.20" cy="206.30" r="2.3" fill="#f4962a" stroke="#222" stroke-width="0.7"/><circle cx="152.80" cy="204.18" r="2.3" fill="#f4962a" stroke="#222" stroke-width="0.7"/><circle cx="170.40" cy="207.36" r="2.3" fill="#f4962a" stroke="#222" stroke-width="0.7"/><circle cx="50" cy="253.68" r="2.3" fill="#cccccc" stroke="#222" stroke-width="0.7"/><circle cx="63.60" cy="252.09" r="2.3" fill="#cccccc" stroke="#222" stroke-width="0.7"/><circle cx="81.60" cy="255.59" r="2.3" fill="#cccccc" stroke="#222" stroke-width="0.7"/><circle cx="99.60" cy="250.82" r="2.3" fill="#cccccc" stroke="#222" stroke-width="0.7"/><circle cx="117.40" cy="232.59" r="2.3" fill="#cccccc" stroke="#222" stroke-width="0.7"/><circle cx="135.20" cy="214.99" r="2.3" fill="#cccccc" stroke="#222" stroke-width="0.7"/><circle cx="152.80" cy="211.60" r="2.3" fill="#cccccc" stroke="#222" stroke-width="0.7"/><circle cx="170.40" cy="215.20" r="2.3" fill="#cccccc" stroke="#222" stroke-width="0.7"/></g><g transform="translate(170.20,0)"><text x="10.60" y="172.60" font-size="10.00" text-anchor="start" fill="#000" font-weight="bold" stroke="#000" stroke-width="0.08" >c</text><line x1="44.3" y1="179.5" x2="44.3" y2="263.8" stroke="#000" stroke-width="1"/><line x1="40.2" y1="254.00" x2="44.3" y2="254.00" stroke="#000" stroke-width="1"/><text x="38.60" y="256.50" font-size="6.90" text-anchor="end" fill="#000" stroke="#000" stroke-width="0.08" >0</text><line x1="40.2" y1="232.80" x2="44.3" y2="232.80" stroke="#000" stroke-width="1"/><text x="38.60" y="235.30" font-size="6.90" text-anchor="end" fill="#000" stroke="#000" stroke-width="0.08" >20</text><line x1="40.2" y1="211.60" x2="44.3" y2="211.60" stroke="#000" stroke-width="1"/><text x="38.60" y="214.10" font-size="6.90" text-anchor="end" fill="#000" stroke="#000" stroke-width="0.08" >40</text><line x1="40.2" y1="190.40" x2="44.3" y2="190.40" stroke="#000" stroke-width="1"/><text x="38.60" y="192.90" font-size="6.90" text-anchor="end" fill="#000" stroke="#000" stroke-width="0.08" >60</text><text transform="translate(19.00,218.80) rotate(-90)" font-size="7.35" text-anchor="middle" stroke="#000" stroke-width="0.08">Receptor activation</text><text transform="translate(27.40,218.80) rotate(-90)" font-size="7.35" text-anchor="middle" stroke="#000" stroke-width="0.08">(% AP-TGFα release)</text><line x1="44.3" y1="253.6" x2="56.3" y2="253.6" stroke="#000" stroke-width="1"/><line x1="51.5" y1="254.40" x2="56" y2="254.40" stroke="#3a8bd3" stroke-width="1.2"/><line x1="56.3" y1="251.2" x2="56.3" y2="256.2" stroke="#000" stroke-width="1"/><line x1="61.5" y1="253.6" x2="170.4" y2="253.6" stroke="#000" stroke-width="1"/><line x1="63.60" y1="253.6" x2="63.60" y2="258.6" stroke="#000" stroke-width="1"/><text transform="translate(68.40,263.0) rotate(-45)" font-size="7" text-anchor="end" stroke="#000" stroke-width="0.08">10<tspan font-size="4.4" dy="-2.3">-10</tspan></text><line x1="81.60" y1="253.6" x2="81.60" y2="258.6" stroke="#000" stroke-width="1"/><text transform="translate(86.40,263.0) rotate(-45)" font-size="7" text-anchor="end" stroke="#000" stroke-width="0.08">10<tspan font-size="4.4" dy="-2.3">-9</tspan></text><line x1="99.60" y1="253.6" x2="99.60" y2="258.6" stroke="#000" stroke-width="1"/><text transform="translate(104.40,263.0) rotate(-45)" font-size="7" text-anchor="end" stroke="#000" stroke-width="0.08">10<tspan font-size="4.4" dy="-2.3">-8</tspan></text><line x1="117.40" y1="253.6" x2="117.40" y2="258.6" stroke="#000" stroke-width="1"/><text transform="translate(122.20,263.0) rotate(-45)" font-size="7" text-anchor="end" stroke="#000" stroke-width="0.08">10<tspan font-size="4.4" dy="-2.3">-7</tspan></text><line x1="135.20" y1="253.6" x2="135.20" y2="258.6" stroke="#000" stroke-width="1"/><text transform="translate(140.00,263.0) rotate(-45)" font-size="7" text-anchor="end" stroke="#000" stroke-width="0.08">10<tspan font-size="4.4" dy="-2.3">-6</tspan></text><line x1="152.80" y1="253.6" x2="152.80" y2="258.6" stroke="#000" stroke-width="1"/><text transform="translate(157.60,263.0) rotate(-45)" font-size="7" text-anchor="end" stroke="#000" stroke-width="0.08">10<tspan font-size="4.4" dy="-2.3">-5</tspan></text><line x1="170.40" y1="253.6" x2="170.40" y2="258.6" stroke="#000" stroke-width="1"/><text transform="translate(175.20,263.0) rotate(-45)" font-size="7" text-anchor="end" stroke="#000" stroke-width="0.08">10<tspan font-size="4.4" dy="-2.3">-4</tspan></text><text x="116.30" y="284.80" font-size="7.90" text-anchor="middle" fill="#000" stroke="#000" stroke-width="0.08" >Compound (M)</text><line x1="54.90" y1="176.30" x2="65.30" y2="176.30" stroke="#3a8bd3" stroke-width="1"/><circle cx="60.10" cy="176.30" r="2.2" fill="#3a8bd3" stroke="#222" stroke-width="0.7"/><text x="70.60" y="178.90" font-size="6.90" text-anchor="start" fill="#000" stroke="#000" stroke-width="0.12" >i<tspan font-size="4.6" dy="-2.6">6</tspan><tspan dy="2.6">​</tspan>A+A<tspan font-size="4.6" dy="0.9">3</tspan><tspan dy="-0.9">R</tspan></text><line x1="54.90" y1="185.20" x2="65.30" y2="185.20" stroke="#222" stroke-width="1"/><circle cx="60.10" cy="185.20" r="2.2" fill="#d9d9d9" stroke="#222" stroke-width="0.7"/><text x="70.60" y="187.80" font-size="6.90" text-anchor="start" fill="#000" stroke="#000" stroke-width="0.12" >A+A<tspan font-size="4.6" dy="0.9">3</tspan><tspan dy="-0.9">R</tspan></text><line x1="54.90" y1="193.50" x2="65.30" y2="193.50" stroke="#222" stroke-width="1"/><circle cx="60.10" cy="193.50" r="2.2" fill="none" stroke="#222" stroke-width="0.7"/><text x="70.60" y="196.10" font-size="6.90" text-anchor="start" fill="#000" stroke="#000" stroke-width="0.12" >i<tspan font-size="4.6" dy="-2.6">6</tspan><tspan dy="2.6">​</tspan>A+MOCK</text><path d="M63.60,253.99L64.49,253.99L65.38,253.99L66.27,253.99L67.16,253.99L68.05,253.98L68.94,253.98L69.83,253.98L70.72,253.98L71.61,253.98L72.50,253.98L73.39,253.98L74.28,253.97L75.17,253.97L76.06,253.97L76.95,253.97L77.84,253.97L78.73,253.96L79.62,253.96L80.51,253.96L81.40,253.95L82.29,253.95L83.18,253.95L84.07,253.94L84.96,253.94L85.85,253.94L86.74,253.93L87.63,253.93L88.52,253.92L89.41,253.92L90.30,253.91L91.19,253.90L92.08,253.90L92.97,253.89L93.86,253.88L94.75,253.87L95.64,253.86L96.53,253.85L97.42,253.84L98.31,253.83L99.20,253.82L100.09,253.80L100.98,253.79L101.87,253.77L102.76,253.76L103.65,253.74L104.54,253.72L105.43,253.70L106.32,253.68L107.21,253.66L108.10,253.63L108.99,253.61L109.88,253.58L110.77,253.55L111.66,253.52L112.55,253.49L113.44,253.45L114.33,253.41L115.22,253.37L116.11,253.33L117.00,253.28L117.89,253.23L118.78,253.17L119.67,253.12L120.56,253.06L121.45,252.99L122.34,252.92L123.23,252.85L124.12,252.77L125.01,252.69L125.90,252.60L126.79,252.51L127.68,252.41L128.57,252.30L129.46,252.19L130.35,252.07L131.24,251.95L132.13,251.82L133.02,251.68L133.91,251.53L134.80,251.38L135.69,251.22L136.58,251.05L137.47,250.87L138.36,250.68L139.25,250.49L140.14,250.28L141.03,250.07L141.92,249.85L142.81,249.62L143.70,249.38L144.59,249.14L145.48,248.88L146.37,248.62L147.26,248.35L148.15,248.07L149.04,247.79L149.93,247.50L150.82,247.20L151.71,246.90L152.60,246.59L153.49,246.28L154.38,245.97L155.27,245.65L156.16,245.33L157.05,245.01L157.94,244.69L158.83,244.37L159.72,244.05L160.61,243.74L161.50,243.42L162.39,243.11L163.28,242.81L164.17,242.51L165.06,242.21L165.95,241.92L166.84,241.64L167.73,241.36L168.62,241.09L169.51,240.83L170.40,240.58" fill="none" stroke="#222" stroke-width="1.25"/><path d="M63.60,253.89L64.49,253.89L65.38,253.89L66.27,253.88L67.16,253.88L68.05,253.88L68.94,253.88L69.83,253.88L70.72,253.87L71.61,253.87L72.50,253.87L73.39,253.86L74.28,253.86L75.17,253.85L76.06,253.84L76.95,253.84L77.84,253.83L78.73,253.82L79.62,253.80L80.51,253.79L81.40,253.77L82.29,253.75L83.18,253.73L84.07,253.71L84.96,253.68L85.85,253.64L86.74,253.60L87.63,253.56L88.52,253.50L89.41,253.44L90.30,253.37L91.19,253.29L92.08,253.19L92.97,253.08L93.86,252.95L94.75,252.81L95.64,252.64L96.53,252.45L97.42,252.22L98.31,251.97L99.20,251.68L100.09,251.34L100.98,250.97L101.87,250.54L102.76,250.05L103.65,249.50L104.54,248.88L105.43,248.19L106.32,247.43L107.21,246.58L108.10,245.64L108.99,244.62L109.88,243.52L110.77,242.33L111.66,241.07L112.55,239.73L113.44,238.33L114.33,236.88L115.22,235.40L116.11,233.90L117.00,232.39L117.89,230.90L118.78,229.43L119.67,228.01L120.56,226.65L121.45,225.36L122.34,224.14L123.23,223.00L124.12,221.94L125.01,220.98L125.90,220.09L126.79,219.29L127.68,218.57L128.57,217.93L129.46,217.35L130.35,216.84L131.24,216.39L132.13,215.99L133.02,215.64L133.91,215.33L134.80,215.06L135.69,214.83L136.58,214.62L137.47,214.45L138.36,214.29L139.25,214.16L140.14,214.04L141.03,213.94L141.92,213.85L142.81,213.78L143.70,213.71L144.59,213.65L145.48,213.60L146.37,213.56L147.26,213.53L148.15,213.49L149.04,213.47L149.93,213.44L150.82,213.42L151.71,213.41L152.60,213.39L153.49,213.38L154.38,213.37L155.27,213.36L156.16,213.35L157.05,213.34L157.94,213.33L158.83,213.33L159.72,213.32L160.61,213.32L161.50,213.32L162.39,213.31L163.28,213.31L164.17,213.31L165.06,213.31L165.95,213.31L166.84,213.30L167.73,213.30L168.62,213.30L169.51,213.30L170.40,213.30" fill="none" stroke="#141414" stroke-width="1.25"/><path d="M63.60,255.54L64.49,255.53L65.38,255.53L66.27,255.52L67.16,255.51L68.05,255.51L68.94,255.50L69.83,255.49L70.72,255.48L71.61,255.46L72.50,255.45L73.39,255.44L74.28,255.42L75.17,255.40L76.06,255.38L76.95,255.36L77.84,255.34L78.73,255.31L79.62,255.28L80.51,255.25L81.40,255.21L82.29,255.17L83.18,255.13L84.07,255.08L84.96,255.03L85.85,254.97L86.74,254.91L87.63,254.84L88.52,254.76L89.41,254.67L90.30,254.58L91.19,254.47L92.08,254.36L92.97,254.23L93.86,254.09L94.75,253.94L95.64,253.77L96.53,253.59L97.42,253.39L98.31,253.17L99.20,252.93L100.09,252.66L100.98,252.37L101.87,252.06L102.76,251.71L103.65,251.34L104.54,250.93L105.43,250.49L106.32,250.01L107.21,249.49L108.10,248.93L108.99,248.33L109.88,247.68L110.77,246.99L111.66,246.25L112.55,245.46L113.44,244.62L114.33,243.73L115.22,242.79L116.11,241.81L117.00,240.78L117.89,239.70L118.78,238.58L119.67,237.42L120.56,236.23L121.45,235.01L122.34,233.76L123.23,232.50L124.12,231.22L125.01,229.94L125.90,228.65L126.79,227.38L127.68,226.11L128.57,224.87L129.46,223.65L130.35,222.45L131.24,221.30L132.13,220.18L133.02,219.10L133.91,218.07L134.80,217.08L135.69,216.14L136.58,215.26L137.47,214.42L138.36,213.63L139.25,212.89L140.14,212.19L141.03,211.55L141.92,210.94L142.81,210.38L143.70,209.87L144.59,209.39L145.48,208.95L146.37,208.54L147.26,208.16L148.15,207.82L149.04,207.50L149.93,207.21L150.82,206.95L151.71,206.71L152.60,206.49L153.49,206.29L154.38,206.10L155.27,205.93L156.16,205.78L157.05,205.64L157.94,205.52L158.83,205.40L159.72,205.30L160.61,205.20L161.50,205.12L162.39,205.04L163.28,204.97L164.17,204.90L165.06,204.85L165.95,204.79L166.84,204.74L167.73,204.70L168.62,204.66L169.51,204.63L170.40,204.59" fill="none" stroke="#3a8bd3" stroke-width="1.25"/><circle cx="63.60" cy="252.30" r="2.3" fill="none" stroke="#222" stroke-width="0.7"/><circle cx="81.60" cy="254.53" r="2.3" fill="none" stroke="#222" stroke-width="0.7"/><circle cx="99.60" cy="254.00" r="2.3" fill="none" stroke="#222" stroke-width="0.7"/><circle cx="117.40" cy="253.68" r="2.3" fill="none" stroke="#222" stroke-width="0.7"/><circle cx="135.20" cy="250.82" r="2.3" fill="none" stroke="#222" stroke-width="0.7"/><circle cx="152.80" cy="246.79" r="2.3" fill="none" stroke="#222" stroke-width="0.7"/><circle cx="170.40" cy="240.54" r="2.3" fill="none" stroke="#222" stroke-width="0.7"/><circle cx="63.60" cy="252.41" r="2.3" fill="#d9d9d9" stroke="#222" stroke-width="0.7"/><circle cx="81.60" cy="255.06" r="2.3" fill="#d9d9d9" stroke="#222" stroke-width="0.7"/><circle cx="99.60" cy="250.82" r="2.3" fill="#d9d9d9" stroke="#222" stroke-width="0.7"/><circle cx="117.40" cy="232.59" r="2.3" fill="#d9d9d9" stroke="#222" stroke-width="0.7"/><circle cx="135.20" cy="214.78" r="2.3" fill="#d9d9d9" stroke="#222" stroke-width="0.7"/><circle cx="152.80" cy="212.13" r="2.3" fill="#d9d9d9" stroke="#222" stroke-width="0.7"/><circle cx="170.40" cy="215.42" r="2.3" fill="#d9d9d9" stroke="#222" stroke-width="0.7"/><circle cx="50" cy="254.00" r="2.3" fill="#3a8bd3" stroke="#222" stroke-width="0.7"/><circle cx="81.60" cy="254.53" r="2.3" fill="#3a8bd3" stroke="#222" stroke-width="0.7"/><circle cx="99.60" cy="254.53" r="2.3" fill="#3a8bd3" stroke="#222" stroke-width="0.7"/><circle cx="117.40" cy="240.22" r="2.3" fill="#3a8bd3" stroke="#222" stroke-width="0.7"/><circle cx="135.20" cy="217.43" r="2.3" fill="#3a8bd3" stroke="#222" stroke-width="0.7"/><circle cx="152.80" cy="206.51" r="2.3" fill="#3a8bd3" stroke="#222" stroke-width="0.7"/><circle cx="170.40" cy="204.50" r="2.3" fill="#3a8bd3" stroke="#222" stroke-width="0.7"/></g><g transform="translate(344.00,0)"><text x="9.40" y="172.60" font-size="10.00" text-anchor="start" fill="#000" font-weight="bold" stroke="#000" stroke-width="0.08" >d</text><line x1="44.3" y1="179.5" x2="44.3" y2="263.8" stroke="#000" stroke-width="1"/><line x1="40.2" y1="254.00" x2="44.3" y2="254.00" stroke="#000" stroke-width="1"/><text x="38.60" y="256.50" font-size="6.90" text-anchor="end" fill="#000" stroke="#000" stroke-width="0.08" >0</text><line x1="40.2" y1="232.80" x2="44.3" y2="232.80" stroke="#000" stroke-width="1"/><text x="38.60" y="235.30" font-size="6.90" text-anchor="end" fill="#000" stroke="#000" stroke-width="0.08" >20</text><line x1="40.2" y1="211.60" x2="44.3" y2="211.60" stroke="#000" stroke-width="1"/><text x="38.60" y="214.10" font-size="6.90" text-anchor="end" fill="#000" stroke="#000" stroke-width="0.08" >40</text><line x1="40.2" y1="190.40" x2="44.3" y2="190.40" stroke="#000" stroke-width="1"/><text x="38.60" y="192.90" font-size="6.90" text-anchor="end" fill="#000" stroke="#000" stroke-width="0.08" >60</text><text transform="translate(19.30,217.50) rotate(-90)" font-size="7.35" text-anchor="middle" stroke="#000" stroke-width="0.08">Receptor activation</text><text transform="translate(27.40,217.50) rotate(-90)" font-size="7.35" text-anchor="middle" stroke="#000" stroke-width="0.08">(% AP-TGFα release)</text><line x1="44.3" y1="253.6" x2="56.3" y2="253.6" stroke="#000" stroke-width="1"/><line x1="51.5" y1="254.20" x2="56" y2="254.20" stroke="#1b9660" stroke-width="1.2"/><line x1="56.3" y1="251.2" x2="56.3" y2="256.2" stroke="#000" stroke-width="1"/><line x1="61.5" y1="253.6" x2="170.4" y2="253.6" stroke="#000" stroke-width="1"/><line x1="63.60" y1="253.6" x2="63.60" y2="258.6" stroke="#000" stroke-width="1"/><text transform="translate(68.40,263.0) rotate(-45)" font-size="7" text-anchor="end" stroke="#000" stroke-width="0.08">10<tspan font-size="4.4" dy="-2.3">-10</tspan></text><line x1="81.60" y1="253.6" x2="81.60" y2="258.6" stroke="#000" stroke-width="1"/><text transform="translate(86.40,263.0) rotate(-45)" font-size="7" text-anchor="end" stroke="#000" stroke-width="0.08">10<tspan font-size="4.4" dy="-2.3">-9</tspan></text><line x1="99.60" y1="253.6" x2="99.60" y2="258.6" stroke="#000" stroke-width="1"/><text transform="translate(104.40,263.0) rotate(-45)" font-size="7" text-anchor="end" stroke="#000" stroke-width="0.08">10<tspan font-size="4.4" dy="-2.3">-8</tspan></text><line x1="117.40" y1="253.6" x2="117.40" y2="258.6" stroke="#000" stroke-width="1"/><text transform="translate(122.20,263.0) rotate(-45)" font-size="7" text-anchor="end" stroke="#000" stroke-width="0.08">10<tspan font-size="4.4" dy="-2.3">-7</tspan></text><line x1="135.20" y1="253.6" x2="135.20" y2="258.6" stroke="#000" stroke-width="1"/><text transform="translate(140.00,263.0) rotate(-45)" font-size="7" text-anchor="end" stroke="#000" stroke-width="0.08">10<tspan font-size="4.4" dy="-2.3">-6</tspan></text><line x1="152.80" y1="253.6" x2="152.80" y2="258.6" stroke="#000" stroke-width="1"/><text transform="translate(157.60,263.0) rotate(-45)" font-size="7" text-anchor="end" stroke="#000" stroke-width="0.08">10<tspan font-size="4.4" dy="-2.3">-5</tspan></text><line x1="170.40" y1="253.6" x2="170.40" y2="258.6" stroke="#000" stroke-width="1"/><text transform="translate(175.20,263.0) rotate(-45)" font-size="7" text-anchor="end" stroke="#000" stroke-width="0.08">10<tspan font-size="4.4" dy="-2.3">-4</tspan></text><text x="117.60" y="283.20" font-size="7.90" text-anchor="middle" fill="#000" stroke="#000" stroke-width="0.08" >Compound (M)</text><line x1="55.10" y1="176.30" x2="65.50" y2="176.30" stroke="#1b9660" stroke-width="1"/><circle cx="60.30" cy="176.30" r="2.2" fill="#1b9660" stroke="#222" stroke-width="0.7"/><text x="68.70" y="178.90" font-size="6.90" text-anchor="start" fill="#000" stroke="#000" stroke-width="0.12" >m<tspan font-size="4.0" dy="-2.6">6,6</tspan><tspan dy="2.6">​</tspan>A+A<tspan font-size="4.6" dy="0.9">3</tspan><tspan dy="-0.9">R</tspan></text><line x1="55.10" y1="185.20" x2="65.50" y2="185.20" stroke="#222" stroke-width="1"/><circle cx="60.30" cy="185.20" r="2.2" fill="#d9d9d9" stroke="#222" stroke-width="0.7"/><text x="68.70" y="187.80" font-size="6.90" text-anchor="start" fill="#000" stroke="#000" stroke-width="0.12" >A+A<tspan font-size="4.6" dy="0.9">3</tspan><tspan dy="-0.9">R</tspan></text><line x1="55.10" y1="193.50" x2="65.50" y2="193.50" stroke="#222" stroke-width="1"/><circle cx="60.30" cy="193.50" r="2.2" fill="none" stroke="#222" stroke-width="0.7"/><text x="68.70" y="196.10" font-size="6.90" text-anchor="start" fill="#000" stroke="#000" stroke-width="0.12" >m<tspan font-size="4.0" dy="-2.6">6,6</tspan><tspan dy="2.6">​</tspan>A+MOCK</text><path d="M63.60,253.90L64.49,253.89L65.38,253.89L66.27,253.89L67.16,253.89L68.05,253.89L68.94,253.88L69.83,253.88L70.72,253.88L71.61,253.88L72.50,253.87L73.39,253.87L74.28,253.87L75.17,253.87L76.06,253.86L76.95,253.86L77.84,253.85L78.73,253.85L79.62,253.84L80.51,253.84L81.40,253.83L82.29,253.83L83.18,253.82L84.07,253.82L84.96,253.81L85.85,253.80L86.74,253.79L87.63,253.78L88.52,253.77L89.41,253.76L90.30,253.75L91.19,253.74L92.08,253.73L92.97,253.71L93.86,253.70L94.75,253.68L95.64,253.67L96.53,253.65L97.42,253.63L98.31,253.61L99.20,253.59L100.09,253.56L100.98,253.54L101.87,253.51L102.76,253.48L103.65,253.45L104.54,253.42L105.43,253.38L106.32,253.34L107.21,253.30L108.10,253.26L108.99,253.21L109.88,253.16L110.77,253.11L111.66,253.05L112.55,252.99L113.44,252.93L114.33,252.86L115.22,252.79L116.11,252.71L117.00,252.62L117.89,252.53L118.78,252.44L119.67,252.34L120.56,252.23L121.45,252.11L122.34,251.99L123.23,251.86L124.12,251.72L125.01,251.58L125.90,251.42L126.79,251.26L127.68,251.08L128.57,250.90L129.46,250.70L130.35,250.49L131.24,250.28L132.13,250.05L133.02,249.80L133.91,249.55L134.80,249.28L135.69,249.00L136.58,248.71L137.47,248.40L138.36,248.08L139.25,247.74L140.14,247.40L141.03,247.03L141.92,246.66L142.81,246.27L143.70,245.86L144.59,245.45L145.48,245.02L146.37,244.58L147.26,244.12L148.15,243.66L149.04,243.19L149.93,242.71L150.82,242.22L151.71,241.72L152.60,241.22L153.49,240.71L154.38,240.20L155.27,239.69L156.16,239.17L157.05,238.66L157.94,238.15L158.83,237.64L159.72,237.13L160.61,236.63L161.50,236.14L162.39,235.65L163.28,235.17L164.17,234.71L165.06,234.25L165.95,233.80L166.84,233.36L167.73,232.94L168.62,232.53L169.51,232.13L170.40,231.74" fill="none" stroke="#222" stroke-width="1.25"/><path d="M63.60,253.89L64.49,253.89L65.38,253.89L66.27,253.88L67.16,253.88L68.05,253.88L68.94,253.88L69.83,253.88L70.72,253.87L71.61,253.87L72.50,253.87L73.39,253.86L74.28,253.86L75.17,253.85L76.06,253.84L76.95,253.84L77.84,253.83L78.73,253.82L79.62,253.80L80.51,253.79L81.40,253.77L82.29,253.75L83.18,253.73L84.07,253.71L84.96,253.68L85.85,253.64L86.74,253.60L87.63,253.56L88.52,253.50L89.41,253.44L90.30,253.37L91.19,253.29L92.08,253.19L92.97,253.08L93.86,252.95L94.75,252.81L95.64,252.64L96.53,252.45L97.42,252.22L98.31,251.97L99.20,251.68L100.09,251.34L100.98,250.97L101.87,250.54L102.76,250.05L103.65,249.50L104.54,248.88L105.43,248.19L106.32,247.43L107.21,246.58L108.10,245.64L108.99,244.62L109.88,243.52L110.77,242.33L111.66,241.07L112.55,239.73L113.44,238.33L114.33,236.88L115.22,235.40L116.11,233.90L117.00,232.39L117.89,230.90L118.78,229.43L119.67,228.01L120.56,226.65L121.45,225.36L122.34,224.14L123.23,223.00L124.12,221.94L125.01,220.98L125.90,220.09L126.79,219.29L127.68,218.57L128.57,217.93L129.46,217.35L130.35,216.84L131.24,216.39L132.13,215.99L133.02,215.64L133.91,215.33L134.80,215.06L135.69,214.83L136.58,214.62L137.47,214.45L138.36,214.29L139.25,214.16L140.14,214.04L141.03,213.94L141.92,213.85L142.81,213.78L143.70,213.71L144.59,213.65L145.48,213.60L146.37,213.56L147.26,213.53L148.15,213.49L149.04,213.47L149.93,213.44L150.82,213.42L151.71,213.41L152.60,213.39L153.49,213.38L154.38,213.37L155.27,213.36L156.16,213.35L157.05,213.34L157.94,213.33L158.83,213.33L159.72,213.32L160.61,213.32L161.50,213.32L162.39,213.31L163.28,213.31L164.17,213.31L165.06,213.31L165.95,213.31L166.84,213.30L167.73,213.30L168.62,213.30L169.51,213.30L170.40,213.30" fill="none" stroke="#141414" stroke-width="1.25"/><path d="M63.60,254.73L64.49,254.73L65.38,254.72L66.27,254.71L67.16,254.71L68.05,254.70L68.94,254.69L69.83,254.68L70.72,254.68L71.61,254.67L72.50,254.66L73.39,254.64L74.28,254.63L75.17,254.62L76.06,254.60L76.95,254.59L77.84,254.57L78.73,254.55L79.62,254.53L80.51,254.51L81.40,254.49L82.29,254.47L83.18,254.44L84.07,254.41L84.96,254.38L85.85,254.35L86.74,254.31L87.63,254.27L88.52,254.23L89.41,254.18L90.30,254.13L91.19,254.08L92.08,254.02L92.97,253.96L93.86,253.90L94.75,253.82L95.64,253.75L96.53,253.66L97.42,253.57L98.31,253.48L99.20,253.37L100.09,253.26L100.98,253.14L101.87,253.01L102.76,252.87L103.65,252.72L104.54,252.55L105.43,252.38L106.32,252.19L107.21,251.99L108.10,251.78L108.99,251.55L109.88,251.30L110.77,251.04L111.66,250.75L112.55,250.45L113.44,250.13L114.33,249.79L115.22,249.42L116.11,249.03L117.00,248.62L117.89,248.18L118.78,247.72L119.67,247.22L120.56,246.70L121.45,246.15L122.34,245.57L123.23,244.97L124.12,244.33L125.01,243.66L125.90,242.96L126.79,242.22L127.68,241.46L128.57,240.67L129.46,239.85L130.35,239.01L131.24,238.13L132.13,237.23L133.02,236.31L133.91,235.37L134.80,234.41L135.69,233.43L136.58,232.44L137.47,231.44L138.36,230.42L139.25,229.41L140.14,228.39L141.03,227.38L141.92,226.36L142.81,225.36L143.70,224.36L144.59,223.38L145.48,222.42L146.37,221.47L147.26,220.55L148.15,219.64L149.04,218.76L149.93,217.91L150.82,217.09L151.71,216.29L152.60,215.52L153.49,214.79L154.38,214.08L155.27,213.40L156.16,212.76L157.05,212.14L157.94,211.56L158.83,211.00L159.72,210.48L160.61,209.98L161.50,209.51L162.39,209.06L163.28,208.64L164.17,208.25L165.06,207.88L165.95,207.53L166.84,207.21L167.73,206.90L168.62,206.61L169.51,206.35L170.40,206.10" fill="none" stroke="#1b9660" stroke-width="1.25"/><line x1="135.20" y1="235.45" x2="135.20" y2="229.09" stroke="#000" stroke-width="0.9"/><circle cx="50" cy="255.59" r="2.3" fill="none" stroke="#222" stroke-width="0.7"/><circle cx="63.60" cy="252.94" r="2.3" fill="none" stroke="#222" stroke-width="0.7"/><circle cx="81.60" cy="254.00" r="2.3" fill="none" stroke="#222" stroke-width="0.7"/><circle cx="99.60" cy="254.00" r="2.3" fill="none" stroke="#222" stroke-width="0.7"/><circle cx="117.40" cy="253.47" r="2.3" fill="none" stroke="#222" stroke-width="0.7"/><circle cx="135.20" cy="248.49" r="2.3" fill="none" stroke="#222" stroke-width="0.7"/><circle cx="152.80" cy="241.49" r="2.3" fill="none" stroke="#222" stroke-width="0.7"/><circle cx="170.40" cy="231.74" r="2.3" fill="none" stroke="#222" stroke-width="0.7"/><circle cx="63.60" cy="252.09" r="2.3" fill="#d9d9d9" stroke="#222" stroke-width="0.7"/><circle cx="81.60" cy="254.00" r="2.3" fill="#d9d9d9" stroke="#222" stroke-width="0.7"/><circle cx="99.60" cy="250.82" r="2.3" fill="#d9d9d9" stroke="#222" stroke-width="0.7"/><circle cx="117.40" cy="232.38" r="2.3" fill="#d9d9d9" stroke="#222" stroke-width="0.7"/><circle cx="135.20" cy="214.36" r="2.3" fill="#d9d9d9" stroke="#222" stroke-width="0.7"/><circle cx="152.80" cy="212.02" r="2.3" fill="#d9d9d9" stroke="#222" stroke-width="0.7"/><circle cx="170.40" cy="214.99" r="2.3" fill="#d9d9d9" stroke="#222" stroke-width="0.7"/><circle cx="50" cy="253.15" r="2.3" fill="#1b9660" stroke="#222" stroke-width="0.7"/><circle cx="81.60" cy="252.94" r="2.3" fill="#1b9660" stroke="#222" stroke-width="0.7"/><circle cx="99.60" cy="255.06" r="2.3" fill="#1b9660" stroke="#222" stroke-width="0.7"/><circle cx="117.40" cy="250.50" r="2.3" fill="#1b9660" stroke="#222" stroke-width="0.7"/><circle cx="135.20" cy="232.38" r="2.3" fill="#1b9660" stroke="#222" stroke-width="0.7"/><circle cx="152.80" cy="217.43" r="2.3" fill="#1b9660" stroke="#222" stroke-width="0.7"/><circle cx="170.40" cy="205.24" r="2.3" fill="#1b9660" stroke="#222" stroke-width="0.7"/></g><g transform="translate(511.70,0)"><text x="10.30" y="172.60" font-size="10.00" text-anchor="start" fill="#000" font-weight="bold" stroke="#000" stroke-width="0.08" >e</text><line x1="44.3" y1="179.5" x2="44.3" y2="263.8" stroke="#000" stroke-width="1"/><line x1="40.2" y1="254.00" x2="44.3" y2="254.00" stroke="#000" stroke-width="1"/><text x="38.60" y="256.50" font-size="6.90" text-anchor="end" fill="#000" stroke="#000" stroke-width="0.08" >0</text><line x1="40.2" y1="232.80" x2="44.3" y2="232.80" stroke="#000" stroke-width="1"/><text x="38.60" y="235.30" font-size="6.90" text-anchor="end" fill="#000" stroke="#000" stroke-width="0.08" >20</text><line x1="40.2" y1="211.60" x2="44.3" y2="211.60" stroke="#000" stroke-width="1"/><text x="38.60" y="214.10" font-size="6.90" text-anchor="end" fill="#000" stroke="#000" stroke-width="0.08" >40</text><line x1="40.2" y1="190.40" x2="44.3" y2="190.40" stroke="#000" stroke-width="1"/><text x="38.60" y="192.90" font-size="6.90" text-anchor="end" fill="#000" stroke="#000" stroke-width="0.08" >60</text><text transform="translate(18.80,218.00) rotate(-90)" font-size="7.35" text-anchor="middle" stroke="#000" stroke-width="0.08">Receptor activation</text><text transform="translate(28.00,218.00) rotate(-90)" font-size="7.35" text-anchor="middle" stroke="#000" stroke-width="0.08">(% AP-TGFα release)</text><line x1="44.3" y1="253.6" x2="56.3" y2="253.6" stroke="#000" stroke-width="1"/><line x1="51.5" y1="254.00" x2="56" y2="254.00" stroke="#3a2010" stroke-width="1.2"/><line x1="56.3" y1="251.2" x2="56.3" y2="256.2" stroke="#000" stroke-width="1"/><line x1="61.5" y1="253.6" x2="170.4" y2="253.6" stroke="#000" stroke-width="1"/><line x1="63.60" y1="253.6" x2="63.60" y2="258.6" stroke="#000" stroke-width="1"/><text transform="translate(68.40,263.0) rotate(-45)" font-size="7" text-anchor="end" stroke="#000" stroke-width="0.08">10<tspan font-size="4.4" dy="-2.3">-10</tspan></text><line x1="81.60" y1="253.6" x2="81.60" y2="258.6" stroke="#000" stroke-width="1"/><text transform="translate(86.40,263.0) rotate(-45)" font-size="7" text-anchor="end" stroke="#000" stroke-width="0.08">10<tspan font-size="4.4" dy="-2.3">-9</tspan></text><line x1="99.60" y1="253.6" x2="99.60" y2="258.6" stroke="#000" stroke-width="1"/><text transform="translate(104.40,263.0) rotate(-45)" font-size="7" text-anchor="end" stroke="#000" stroke-width="0.08">10<tspan font-size="4.4" dy="-2.3">-8</tspan></text><line x1="117.40" y1="253.6" x2="117.40" y2="258.6" stroke="#000" stroke-width="1"/><text transform="translate(122.20,263.0) rotate(-45)" font-size="7" text-anchor="end" stroke="#000" stroke-width="0.08">10<tspan font-size="4.4" dy="-2.3">-7</tspan></text><line x1="135.20" y1="253.6" x2="135.20" y2="258.6" stroke="#000" stroke-width="1"/><text transform="translate(140.00,263.0) rotate(-45)" font-size="7" text-anchor="end" stroke="#000" stroke-width="0.08">10<tspan font-size="4.4" dy="-2.3">-6</tspan></text><line x1="152.80" y1="253.6" x2="152.80" y2="258.6" stroke="#000" stroke-width="1"/><text transform="translate(157.60,263.0) rotate(-45)" font-size="7" text-anchor="end" stroke="#000" stroke-width="0.08">10<tspan font-size="4.4" dy="-2.3">-5</tspan></text><line x1="170.40" y1="253.6" x2="170.40" y2="258.6" stroke="#000" stroke-width="1"/><text transform="translate(175.20,263.0) rotate(-45)" font-size="7" text-anchor="end" stroke="#000" stroke-width="0.08">10<tspan font-size="4.4" dy="-2.3">-4</tspan></text><text x="114.80" y="282.90" font-size="7.90" text-anchor="middle" fill="#000" stroke="#000" stroke-width="0.08" >Compound (M)</text><line x1="55.60" y1="176.30" x2="66.00" y2="176.30" stroke="#c8844a" stroke-width="1"/><circle cx="60.80" cy="176.30" r="2.2" fill="#a65a26" stroke="#222" stroke-width="0.7"/><text x="69.70" y="178.90" font-size="6.90" text-anchor="start" fill="#000" stroke="#000" stroke-width="0.12" >f<tspan font-size="4.6" dy="-2.6">6</tspan><tspan dy="2.6">​</tspan>A+A<tspan font-size="4.6" dy="0.9">3</tspan><tspan dy="-0.9">R</tspan></text><line x1="55.60" y1="185.20" x2="66.00" y2="185.20" stroke="#222" stroke-width="1"/><circle cx="60.80" cy="185.20" r="2.2" fill="#d9d9d9" stroke="#222" stroke-width="0.7"/><text x="69.70" y="187.80" font-size="6.90" text-anchor="start" fill="#000" stroke="#000" stroke-width="0.12" >A+A<tspan font-size="4.6" dy="0.9">3</tspan><tspan dy="-0.9">R</tspan></text><line x1="55.60" y1="193.50" x2="66.00" y2="193.50" stroke="#222" stroke-width="1"/><circle cx="60.80" cy="193.50" r="2.2" fill="none" stroke="#222" stroke-width="0.7"/><text x="69.70" y="196.10" font-size="6.90" text-anchor="start" fill="#000" stroke="#000" stroke-width="0.12" >f<tspan font-size="4.6" dy="-2.6">6</tspan><tspan dy="2.6">​</tspan>A+MOCK</text><path d="M63.60,253.47L64.49,253.47L65.38,253.47L66.27,253.47L67.16,253.47L68.05,253.47L68.94,253.47L69.83,253.47L70.72,253.47L71.61,253.47L72.50,253.47L73.39,253.47L74.28,253.47L75.17,253.47L76.06,253.47L76.95,253.47L77.84,253.47L78.73,253.47L79.62,253.47L80.51,253.47L81.40,253.47L82.29,253.47L83.18,253.47L84.07,253.47L84.96,253.47L85.85,253.47L86.74,253.47L87.63,253.47L88.52,253.47L89.41,253.47L90.30,253.47L91.19,253.47L92.08,253.47L92.97,253.47L93.86,253.47L94.75,253.47L95.64,253.47L96.53,253.47L97.42,253.47L98.31,253.47L99.20,253.47L100.09,253.47L100.98,253.47L101.87,253.47L102.76,253.47L103.65,253.47L104.54,253.47L105.43,253.47L106.32,253.47L107.21,253.47L108.10,253.47L108.99,253.47L109.88,253.47L110.77,253.47L111.66,253.47L112.55,253.47L113.44,253.47L114.33,253.47L115.22,253.47L116.11,253.47L117.00,253.47L117.89,253.47L118.78,253.47L119.67,253.47L120.56,253.47L121.45,253.47L122.34,253.47L123.23,253.47L124.12,253.47L125.01,253.47L125.90,253.47L126.79,253.47L127.68,253.47L128.57,253.47L129.46,253.47L130.35,253.47L131.24,253.47L132.13,253.47L133.02,253.47L133.91,253.47L134.80,253.47L135.69,253.47L136.58,253.47L137.47,253.47L138.36,253.47L139.25,253.47L140.14,253.47L141.03,253.47L141.92,253.47L142.81,253.47L143.70,253.47L144.59,253.47L145.48,253.47L146.37,253.47L147.26,253.47L148.15,253.47L149.04,253.47L149.93,253.47L150.82,253.47L151.71,253.47L152.60,253.47L153.49,253.47L154.38,253.47L155.27,253.47L156.16,253.47L157.05,253.47L157.94,253.47L158.83,253.47L159.72,253.47L160.61,253.47L161.50,253.47L162.39,253.47L163.28,253.47L164.17,253.47L165.06,253.47L165.95,253.47L166.84,253.47L167.73,253.47L168.62,253.47L169.51,253.47L170.40,253.47" fill="none" stroke="#222" stroke-width="1.25"/><path d="M63.60,253.89L64.49,253.89L65.38,253.89L66.27,253.88L67.16,253.88L68.05,253.88L68.94,253.88L69.83,253.88L70.72,253.87L71.61,253.87L72.50,253.87L73.39,253.86L74.28,253.86L75.17,253.85L76.06,253.84L76.95,253.84L77.84,253.83L78.73,253.82L79.62,253.80L80.51,253.79L81.40,253.77L82.29,253.75L83.18,253.73L84.07,253.71L84.96,253.68L85.85,253.64L86.74,253.60L87.63,253.56L88.52,253.50L89.41,253.44L90.30,253.37L91.19,253.29L92.08,253.19L92.97,253.08L93.86,252.95L94.75,252.81L95.64,252.64L96.53,252.45L97.42,252.22L98.31,251.97L99.20,251.68L100.09,251.34L100.98,250.97L101.87,250.54L102.76,250.05L103.65,249.50L104.54,248.88L105.43,248.19L106.32,247.43L107.21,246.58L108.10,245.64L108.99,244.62L109.88,243.52L110.77,242.33L111.66,241.07L112.55,239.73L113.44,238.33L114.33,236.88L115.22,235.40L116.11,233.90L117.00,232.39L117.89,230.90L118.78,229.43L119.67,228.01L120.56,226.65L121.45,225.36L122.34,224.14L123.23,223.00L124.12,221.94L125.01,220.98L125.90,220.09L126.79,219.29L127.68,218.57L128.57,217.93L129.46,217.35L130.35,216.84L131.24,216.39L132.13,215.99L133.02,215.64L133.91,215.33L134.80,215.06L135.69,214.83L136.58,214.62L137.47,214.45L138.36,214.29L139.25,214.16L140.14,214.04L141.03,213.94L141.92,213.85L142.81,213.78L143.70,213.71L144.59,213.65L145.48,213.60L146.37,213.56L147.26,213.53L148.15,213.49L149.04,213.47L149.93,213.44L150.82,213.42L151.71,213.41L152.60,213.39L153.49,213.38L154.38,213.37L155.27,213.36L156.16,213.35L157.05,213.34L157.94,213.33L158.83,213.33L159.72,213.32L160.61,213.32L161.50,213.32L162.39,213.31L163.28,213.31L164.17,213.31L165.06,213.31L165.95,213.31L166.84,213.30L167.73,213.30L168.62,213.30L169.51,213.30L170.40,213.30" fill="none" stroke="#141414" stroke-width="1.25"/><path d="M63.60,253.79L64.49,253.79L65.38,253.79L66.27,253.79L67.16,253.79L68.05,253.79L68.94,253.79L69.83,253.79L70.72,253.79L71.61,253.79L72.50,253.79L73.39,253.79L74.28,253.79L75.17,253.79L76.06,253.79L76.95,253.79L77.84,253.79L78.73,253.79L79.62,253.79L80.51,253.79L81.40,253.79L82.29,253.79L83.18,253.79L84.07,253.79L84.96,253.79L85.85,253.79L86.74,253.79L87.63,253.79L88.52,253.79L89.41,253.79L90.30,253.79L91.19,253.79L92.08,253.79L92.97,253.79L93.86,253.79L94.75,253.79L95.64,253.79L96.53,253.79L97.42,253.79L98.31,253.79L99.20,253.79L100.09,253.79L100.98,253.79L101.87,253.79L102.76,253.79L103.65,253.79L104.54,253.79L105.43,253.79L106.32,253.79L107.21,253.79L108.10,253.79L108.99,253.79L109.88,253.79L110.77,253.79L111.66,253.79L112.55,253.79L113.44,253.79L114.33,253.79L115.22,253.79L116.11,253.79L117.00,253.79L117.89,253.79L118.78,253.79L119.67,253.79L120.56,253.79L121.45,253.79L122.34,253.79L123.23,253.79L124.12,253.79L125.01,253.79L125.90,253.79L126.79,253.79L127.68,253.79L128.57,253.79L129.46,253.79L130.35,253.79L131.24,253.79L132.13,253.79L133.02,253.79L133.91,253.79L134.80,253.79L135.69,253.79L136.58,253.79L137.47,253.79L138.36,253.79L139.25,253.79L140.14,253.79L141.03,253.79L141.92,253.79L142.81,253.79L143.70,253.79L144.59,253.79L145.48,253.79L146.37,253.79L147.26,253.79L148.15,253.79L149.04,253.79L149.93,253.79L150.82,253.79L151.71,253.79L152.60,253.79L153.49,253.79L154.38,253.79L155.27,253.79L156.16,253.79L157.05,253.79L157.94,253.79L158.83,253.79L159.72,253.79L160.61,253.79L161.50,253.79L162.39,253.79L163.28,253.79L164.17,253.79L165.06,253.79L165.95,253.79L166.84,253.79L167.73,253.79L168.62,253.79L169.51,253.79L170.40,253.79" fill="none" stroke="#5a2e10" stroke-width="1.25"/><circle cx="63.60" cy="252.41" r="2.3" fill="none" stroke="#222" stroke-width="0.7"/><circle cx="81.60" cy="253.47" r="2.3" fill="none" stroke="#222" stroke-width="0.7"/><circle cx="99.60" cy="253.47" r="2.3" fill="none" stroke="#222" stroke-width="0.7"/><circle cx="117.40" cy="253.47" r="2.3" fill="none" stroke="#222" stroke-width="0.7"/><circle cx="135.20" cy="252.94" r="2.3" fill="none" stroke="#222" stroke-width="0.7"/><circle cx="152.80" cy="253.47" r="2.3" fill="none" stroke="#222" stroke-width="0.7"/><circle cx="170.40" cy="252.41" r="2.3" fill="none" stroke="#222" stroke-width="0.7"/><circle cx="63.60" cy="252.09" r="2.3" fill="#d9d9d9" stroke="#222" stroke-width="0.7"/><circle cx="81.60" cy="254.00" r="2.3" fill="#d9d9d9" stroke="#222" stroke-width="0.7"/><circle cx="99.60" cy="250.82" r="2.3" fill="#d9d9d9" stroke="#222" stroke-width="0.7"/><circle cx="117.40" cy="232.38" r="2.3" fill="#d9d9d9" stroke="#222" stroke-width="0.7"/><circle cx="135.20" cy="214.99" r="2.3" fill="#d9d9d9" stroke="#222" stroke-width="0.7"/><circle cx="152.80" cy="211.39" r="2.3" fill="#d9d9d9" stroke="#222" stroke-width="0.7"/><circle cx="170.40" cy="215.42" r="2.3" fill="#d9d9d9" stroke="#222" stroke-width="0.7"/><circle cx="50" cy="254.00" r="2.3" fill="#a65a26" stroke="#222" stroke-width="0.7"/><circle cx="81.60" cy="253.47" r="2.3" fill="#a65a26" stroke="#222" stroke-width="0.7"/><circle cx="99.60" cy="254.00" r="2.3" fill="#a65a26" stroke="#222" stroke-width="0.7"/><circle cx="117.40" cy="254.32" r="2.3" fill="#a65a26" stroke="#222" stroke-width="0.7"/><circle cx="135.20" cy="250.82" r="2.3" fill="#a65a26" stroke="#222" stroke-width="0.7"/><circle cx="152.80" cy="253.68" r="2.3" fill="#a65a26" stroke="#222" stroke-width="0.7"/><circle cx="170.40" cy="254.32" r="2.3" fill="#a65a26" stroke="#222" stroke-width="0.7"/><line x1="61.5" y1="253.90" x2="172" y2="253.90" stroke="#2a1608" stroke-width="1.1"/></g></svg></body></html>
